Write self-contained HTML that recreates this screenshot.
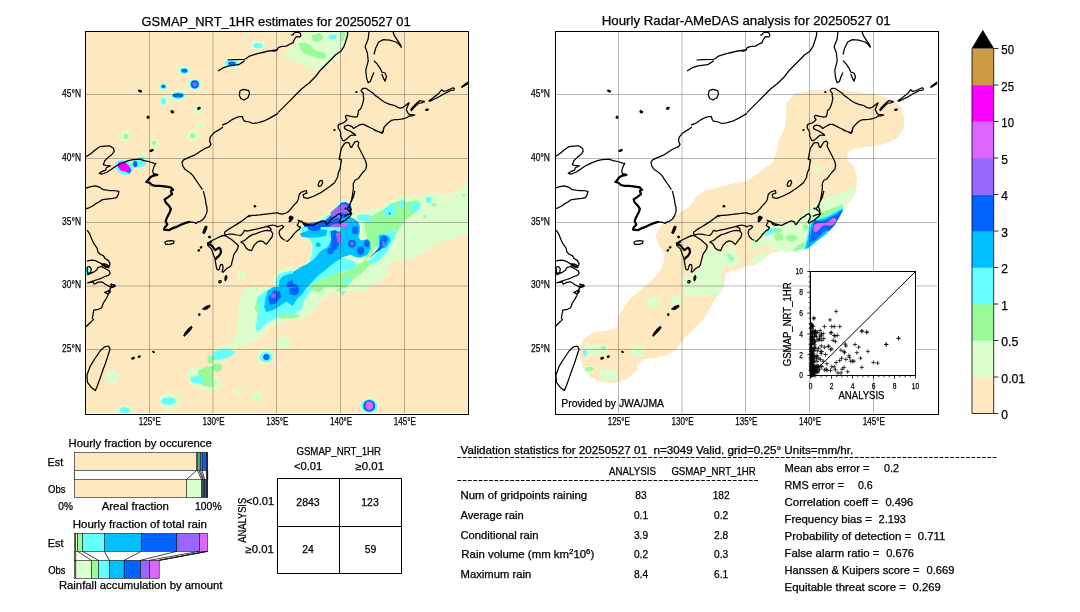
<!DOCTYPE html><html><head><meta charset="utf-8"><style>html,body{margin:0;padding:0;background:#fff;width:1080px;height:612px;overflow:hidden}svg{display:block;will-change:transform}text{font-family:"Liberation Sans",sans-serif;fill:#000;white-space:pre;stroke:#000;stroke-width:0.25px}</style></head><body>
<svg width="1080" height="612" viewBox="0 0 1080 612">
<defs>
<clipPath id="cpL"><rect x="85.75" y="30.75" width="382.5" height="382.5"/></clipPath>
<g id="coast">
<path d="M227.5,60.0 L233.8,59.7 L244.0,59.5 L246.3,58.5 L249.5,56.1 L255.7,54.2 L263.6,52.2 L269.8,50.9 L276.1,49.8 L278.0,49.4 M218.1,71.0 L222.8,67.9 L229.1,65.8 L238.5,64.7 L242.4,62.4 L244.7,60.5 M240.0,90.6 L244.0,89.4 L248.7,90.6 L249.5,93.7 L247.9,97.7 L244.0,100.0 L240.8,98.5 L239.3,95.3 L240.0,90.6 M222.0,125.1 L227.5,122.8 L232.2,119.6 L236.9,117.3 L240.0,116.5 L242.4,116.5 L243.2,119.6 L244.7,121.2 L249.5,122.0 L252.6,123.5 L257.3,122.8 L263.6,121.2 L269.8,118.1 L278.0,113.4 M262.0,52.8 L266.4,51.4 L270.9,50.6 L274.4,51.2 L277.1,50.1 L278.0,47.9 L280.7,46.6 L286.4,46.1 L289.6,44.3 L293.1,42.6 L294.0,40.3 L295.8,37.2 L297.6,36.6 L299.8,37.0 L300.9,35.4 L300.2,33.2 L298.4,32.1 L295.8,32.3 L294.0,33.2 L293.1,34.6 L291.3,35.4 M278.0,112.6 L282.7,107.9 L289.0,101.6 L295.3,95.3 L301.5,89.0 L309.4,82.8 L315.6,76.5 L320.4,70.2 L325.1,65.5 L331.3,59.2 L336.0,54.5 L340.7,51.4 L343.9,46.7 L345.5,42.0 L347.0,37.3 L347.8,33.4 L347.0,31.0 M369.0,31.0 L368.2,38.8 L365.1,46.7 L367.4,53.0 L368.2,60.8 L365.8,70.2 L366.6,78.1 L368.2,82.8 L370.5,81.2 L372.1,76.5 L374.0,72.6 M392.8,31.0 L394.4,35.7 L397.5,40.4 L400.7,45.1 L401.5,47.5 M374.0,54.5 L375.6,48.3 L378.7,42.0 L383.4,39.6 L389.7,40.1 L396.0,42.0 L399.1,44.3 L401.5,47.5 M374.0,60.8 L377.1,63.9 L380.3,68.6 L381.8,72.1 L385.0,73.0 L386.5,76.5 L385.0,81.2 L383.4,78.1 L381.8,74.1 M410.6,110.1 L412.2,107.7 L414.7,105.2 L417.1,102.8 L419.6,100.7 L422.1,101.1 L424.5,101.6 L422.1,102.8 L418.8,103.2 L415.5,106.1 L413.1,108.5 L411.4,110.5 L410.6,110.1 M428.6,101.1 L431.9,98.7 L435.1,96.2 L438.4,93.8 L441.7,89.7 L443.3,91.3 L446.6,90.9 L449.8,89.3 L453.1,87.7 L454.3,88.5 L453.9,90.1 L450.7,90.5 L447.4,92.2 L444.1,93.8 L440.0,96.2 L436.8,97.9 L433.5,99.5 L430.2,101.1 L428.6,101.1 M461.3,87.3 L463.7,85.2 L466.2,83.2 L468.6,81.9 L469.0,83.2 L466.2,84.8 L462.9,86.8 L461.3,87.3 M86.0,156.8 L90.7,153.7 L95.4,149.7 L100.1,146.6 L104.8,146.1 L109.5,145.8 L113.5,148.2 L114.2,151.3 L111.9,154.5 L108.0,157.6 L104.8,160.7 L103.3,164.6 L105.6,165.4 L110.3,165.9 L106.4,167.8 L105.6,170.1 L101.7,171.7 L99.3,173.3 L101.7,174.1 L106.4,172.5 L111.1,169.4 L115.8,166.2 L122.1,163.1 L128.4,160.7 L133.1,159.6 L140.1,159.2 L144.0,160.7 L148.7,161.5 L153.5,163.1 L155.8,163.4 L154.2,166.2 L152.7,170.9 L153.5,174.1 L157.4,174.8 L153.5,175.6 L150.3,177.2 L148.7,179.5 L146.4,181.9 L149.5,182.7 L151.9,185.0 L155.0,185.8 L159.7,185.8 L166.0,186.6 L170.7,187.4 L173.1,189.7 M86.0,188.2 L90.7,186.6 L95.4,185.8 L100.1,187.4 L103.3,189.7 L109.5,190.5 L114.2,190.5 L118.9,191.3 L118.2,194.5 L116.6,197.6 L112.7,198.4 L106.4,199.2 L101.7,199.9 L98.5,202.3 L95.4,203.9 L92.3,206.2 L89.1,207.8 L86.0,208.6 M222.8,127.0 L219.6,129.4 L213.4,133.3 L210.2,137.2 L209.5,141.1 L211.0,144.3 L209.5,146.6 L204.0,149.0 L199.3,152.1 L194.5,155.2 L188.3,157.6 L183.6,159.9 L182.0,162.3 L182.8,166.2 L185.1,169.4 L189.8,172.5 L193.0,175.6 L196.1,180.3 L199.3,185.0 L202.4,189.7 M278.0,213.3 L282.7,214.1 L287.4,212.5 L290.5,209.4 L293.7,205.4 L296.8,202.3 L298.4,199.2 L299.2,194.5 L301.5,192.1 L306.2,190.5 L307.0,192.9 L303.1,194.5 L303.9,197.6 L307.8,198.4 L314.1,196.0 L320.4,192.9 L325.1,189.7 L329.8,186.6 L334.5,182.7 L337.6,177.2 L338.4,172.5 L340.0,169.4 L340.7,164.6 L341.5,159.9 L339.2,159.2 L340.0,155.2 L340.7,151.3 L341.5,148.2 L343.9,144.3 L345.5,142.7 L348.6,142.7 L349.4,143.5 L350.2,146.6 L351.7,147.4 L353.3,144.3 L354.9,141.9 L357.2,141.1 L358.8,142.7 L358.0,145.8 L359.6,149.0 L361.1,152.1 L363.5,156.8 L365.8,161.5 L366.6,165.4 L365.8,169.4 L362.7,172.5 L360.4,175.6 L358.0,178.8 L354.9,180.3 L353.3,183.5 L353.3,189.7 L352.5,194.5 L351.7,199.2 L350.2,203.9 L349.4,207.0 L350.9,210.1 L350.2,214.1 L347.0,214.8 L343.9,216.4 M318.0,185.0 L319.6,181.1 L321.9,180.3 L322.7,182.7 L321.1,185.8 L318.5,186.3 L318.0,185.0 M374.0,130.1 L378.7,131.7 L381.8,133.3 L383.4,130.1 L384.2,127.0 M87.2,230.1 L89.5,233.6 L91.9,239.5 L94.2,244.2 L97.2,248.3 L97.8,251.8 L100.1,254.2 L103.6,255.9 L104.8,258.3 L108.4,260.6 L110.1,263.6 L109.5,265.9 L107.2,266.5 L103.6,264.8 L101.3,263.6 L97.8,261.8 L95.4,260.6 L91.9,260.1 L88.4,260.6 L87.2,261.2 M101.3,263.6 L106.0,264.2 L108.9,265.9 L108.9,267.7 L106.0,267.1 L102.5,265.4 L101.3,263.6 M87.2,274.8 L93.1,272.4 L96.6,270.1 L97.8,267.7 L101.3,266.5 L103.6,267.7 L107.2,269.5 L109.5,271.2 L110.1,273.6 L108.4,275.4 L104.8,276.5 L101.3,278.3 L97.8,279.5 L94.2,280.6 L90.7,281.8 L87.2,283.0 M87.2,267.1 L89.5,266.5 L91.3,268.9 L90.7,272.4 L87.8,273.6 L87.2,270.1 L87.2,267.1 M87.2,283.0 L90.7,282.4 L93.1,281.8 L94.2,284.2 L97.8,282.4 L101.3,281.8 L103.6,283.0 L106.0,284.8 L108.4,285.9 L110.7,287.1 L111.9,286.5 L110.7,284.2 L114.2,284.8 L115.4,285.9 L113.1,287.1 L110.7,287.7 L109.5,290.1 L107.2,291.2 L104.8,292.4 L107.2,293.6 L109.5,293.0 L110.7,290.6 M111.1,284.2 L115.0,285.7 L111.1,287.3 L109.5,290.5 L108.0,295.2 L106.4,298.3 L103.3,303.0 L101.7,307.7 L98.5,309.3 L93.8,310.1 L93.1,314.0 L92.3,319.0 M297.6,220.0 L301.5,221.6 L306.2,223.9 L309.4,224.7 L312.5,225.5 L315.6,223.9 L318.8,222.4 L321.9,220.8 L325.1,221.6 L326.6,224.7 L328.2,223.2 L329.8,220.8 L332.9,217.7 L336.0,216.1 L337.6,214.5 L340.0,213.7 L341.5,216.1 L340.7,219.2 L339.2,221.6 L340.0,223.2 L342.3,221.6 L345.5,220.0 L347.0,218.5 L349.4,216.9 L351.7,213.7 L350.2,211.4 L347.0,209.0 L348.6,206.7 L350.2,203.5 L351.7,200.4 L353.3,197.3 L354.1,194.1 L354.9,191.0 M289.0,217.7 L290.5,216.1 L292.1,218.5 L290.5,220.0 L289.0,217.7 M108.5,346.0 L104.5,346.9 L100.1,351.0 L95.0,358.5 L90.0,366.7 L86.9,375.2 L87.5,382.4 L91.3,387.4 L95.4,390.5 L97.5,385.5 L100.4,377.4 L103.2,369.2 L105.7,362.6 L108.2,354.8 L110.1,349.1 L108.5,346.0 M86.0,326.8 L89.1,323.7 L92.3,320.6 L93.8,319.0 M363.0,95.0 L363.5,93.7 L361.1,90.6 L362.7,88.3 L365.8,88.3 L370.5,91.4 L374.0,93.7 L374.4,95.0 M363.0,95.0 L363.8,98.3 L363.0,102.4 L362.1,105.6 L360.5,108.9 L358.5,110.5 L358.1,113.8 L357.2,116.7 L354.8,117.1 L352.3,116.7 L349.9,116.2 L346.6,115.4 L345.4,116.2 L345.8,118.3 L347.0,119.5 L345.8,121.1 L343.4,122.8 L340.9,123.6 L338.9,124.4 L338.0,126.1 L338.5,128.5 L339.7,130.1 L340.9,133.4 L340.5,135.9 L341.7,138.3 L342.5,140.4 L344.2,140.8 L346.6,139.1 L349.1,136.7 L350.7,135.4 L353.2,135.0 L355.6,135.4 L354.8,134.2 L352.3,132.6 L349.9,131.0 L347.4,130.1 L345.0,128.9 L344.2,127.7 L345.0,126.1 L347.4,125.2 L349.9,125.6 L352.3,126.9 L353.6,128.5 L355.6,127.3 L358.9,125.2 L361.3,124.4 L363.8,124.4 L367.1,126.1 L370.3,127.7 L373.6,129.3 L376.9,131.0 L380.1,132.2 L382.6,133.0 L383.4,131.0 L383.4,128.5 L385.0,126.1 L388.3,122.8 L391.6,120.3 L394.8,119.5 L398.1,119.5 L401.4,119.1 L404.6,118.3 L407.1,117.5 L408.7,116.2 L412.0,115.8 L414.9,115.0 L412.0,114.6 L409.5,114.6 L407.9,113.0 L407.1,111.3 L406.3,109.7 L407.1,107.3 L408.7,104.0 L409.1,102.8 L407.9,103.6 L405.5,105.6 L403.0,107.3 L400.6,108.1 L398.1,107.7 L395.7,106.0 L393.2,105.2 L389.9,104.4 L386.7,103.2 L383.4,101.5 L380.1,99.1 L376.9,96.6 L374.4,95.0 M170.9,191.0 L172.0,194.1 L167.8,197.3 L164.6,199.4 L165.7,202.5 L168.8,205.6 L170.9,208.8 L169.9,211.9 L168.3,215.1 L166.7,218.2 L165.7,221.3 L167.3,224.5 L164.6,227.6 L164.1,229.7 L168.8,230.2 L173.0,228.1 L177.2,226.6 L181.4,224.5 L185.6,222.9 L189.7,221.8 L193.9,222.4 L196.0,223.4 L198.1,221.8 L200.2,221.3 L203.3,219.2 L205.4,216.1 L207.0,211.9 L207.0,207.7 L205.9,203.5 L205.4,199.4 L204.4,195.2 L203.3,191.0 M164.6,242.2 L166.7,241.2 L170.9,240.7 L174.1,241.2 L173.5,243.3 L169.9,244.3 L165.7,244.3 L164.6,242.2 M207.4,243.4 L211.6,240.8 L215.8,238.7 L220.0,236.6 L224.1,235.5 L226.2,236.1 L228.3,237.6 L230.4,238.7 L232.5,240.3 L234.6,242.3 L236.7,243.9 L238.3,246.0 L237.7,248.6 L236.2,251.2 L234.6,253.3 L233.6,255.4 L233.0,258.6 L232.0,261.7 L231.5,264.8 L229.9,266.9 L227.3,268.0 L225.7,269.5 L224.1,271.1 L223.1,272.2 L222.1,271.6 L223.1,268.0 L222.6,264.8 L221.0,264.3 L220.0,265.9 L219.4,269.0 L218.4,270.1 L216.8,269.0 L216.3,266.9 L215.8,263.8 L215.3,260.6 L214.7,257.5 L213.7,255.4 L212.6,252.3 L211.6,249.1 L209.5,247.1 L207.9,245.5 L207.4,243.9 L207.4,243.4 M218.7,281.6 L219.4,280.5 L220.8,280.5 L221.2,281.8 L220.2,282.8 L218.9,282.6 L218.7,281.6 M225.7,235.0 L224.5,233.4 L224.9,231.9 L228.8,229.1 L232.8,226.8 L236.7,224.4 L240.6,221.9 L244.5,218.9 L247.7,216.6 L250.0,215.0 M221.0,235.8 L225.7,235.0 L228.8,234.2 L232.8,234.2 L236.7,235.0 L240.6,235.5 L242.6,233.8 L244.5,230.3 L246.9,231.1 L249.2,230.7 L252.4,229.9 L256.3,229.1 L260.2,228.2 L263.4,227.4 L266.5,226.6 L269.6,225.6 L272.8,225.0 L275.9,225.8 L277.5,226.8 L279.8,226.0 L282.2,225.4 L283.6,226.8 L282.2,228.5 L280.0,229.9 L279.2,231.6 L279.2,233.8 L280.6,237.0 L283.0,239.3 L285.0,240.3 M240.6,242.1 L244.5,240.5 L246.9,238.5 L249.2,236.6 L252.4,234.6 L255.5,233.8 L258.6,232.6 L261.8,231.5 L264.9,230.7 L268.1,230.3 L271.2,231.1 L272.8,233.8 L272.0,237.0 L269.6,240.1 L267.3,243.2 L266.1,244.4 L263.4,241.7 L260.2,240.9 L257.1,242.1 L253.9,245.6 L251.6,250.7 L248.5,249.9 L246.1,247.9 L244.5,244.8 L243.0,243.2 L240.6,242.1 M267.3,226.8 L269.6,227.5 L271.2,229.5 L270.4,230.7 M285.7,241.0 L287.8,241.0 L289.9,238.9 L292.0,236.8 L293.1,234.7 L295.2,232.6 L297.2,230.6 L299.3,229.5 L300.4,227.4 L298.3,226.4 L297.2,225.3 L298.3,223.2 L299.3,221.1 L301.4,221.1 L302.5,222.2 L303.5,224.3 L305.6,225.3 L307.7,225.3 L310.0,224.8 M246.0,217.5 L249.1,216.4 L252.3,215.4 L255.4,215.4 L259.6,214.9 L263.8,214.3 L268.0,213.8 L272.1,213.3 L276.3,212.8 L278.0,212.6 L278.0,213.3 M288.9,221.7 L289.9,219.1 L291.5,216.4 L293.1,217.5 L292.0,219.6 L289.9,221.7 L288.9,221.7" fill="none" stroke="#000" stroke-width="1.25" stroke-linejoin="round"/>
<path d="M153.5,174.1 L157.4,174.8 L153.5,175.6 L150.3,177.2 L148.7,179.5 L146.4,181.9 L149.5,182.7 L151.9,185.0 L155.0,185.8 L159.7,185.8 L166.0,186.6 L170.7,187.4 L173.1,189.7 L170.9,191.0 L172.0,194.1 L167.8,197.3 L164.6,199.4 L165.7,202.5 L168.8,205.6 L170.9,208.8 L169.9,211.9 L168.3,215.1 L166.7,218.2 L165.7,221.3 L167.3,224.5 L164.6,227.6 L164.1,229.7 L168.8,230.2 L173.0,228.1 L177.2,226.6 L181.4,224.5 L185.6,222.9 L189.7,221.8 M208.5,243.9 L211.6,245.5 L213.7,248.1 L215.3,250.2 L216.8,249.1 L218.9,247.6 L220.5,249.1 L221.0,252.3 L220.0,254.4 L218.4,256.5 L216.8,257.5 L215.8,259.6 M207.4,243.4 L209.5,242.9 L211.6,241.3" fill="none" stroke="#000" stroke-width="2.2" stroke-linejoin="round"/>
<path d="M202.4,309.0 L205.5,306.6 L209.5,305.0 L210.2,306.6 L207.1,309.0 L204.7,309.7Z" fill="#000" stroke="#000" stroke-width="0.8"/>
<path d="M183.6,335.6 L185.1,332.5 L188.3,328.6 L191.4,326.2 L192.2,327.8 L189.8,330.9 L186.7,334.1 L184.4,336.4Z" fill="#000" stroke="#000" stroke-width="0.8"/>
<path d="M203.3,232.8 L204.4,229.7 L205.9,226.6 L207.3,227.1 L205.6,230.9 L204.2,233.7Z" fill="#000" stroke="#000" stroke-width="0.8"/>
<path d="M202.7,232.9 L203.8,229.3 L205.3,226.1 L206.9,226.3 L205.8,230.3 L204.3,233.5Z" fill="#000" stroke="#000" stroke-width="0.8"/>
<path d="M225.4,275.8 L226.4,275.3 L227.1,277.4 L226.2,280.3 L225.0,281.1 L224.7,278.4Z" fill="#000" stroke="#000" stroke-width="0.8"/>
<ellipse cx="140.1" cy="91.1" rx="2.2" ry="1.3" transform="rotate(20 140.1 91.1)" fill="#000"/>
<ellipse cx="172.3" cy="111.8" rx="2.0" ry="1.6" transform="rotate(30 172.3 111.8)" fill="#000"/>
<ellipse cx="148.0" cy="117.3" rx="1.4" ry="1.8" transform="rotate(0 148.0 117.3)" fill="#000"/>
<ellipse cx="198.9" cy="108.3" rx="2.0" ry="1.4" transform="rotate(-30 198.9 108.3)" fill="#000"/>
<ellipse cx="356.4" cy="91.9" rx="1.2" ry="1.0" transform="rotate(0 356.4 91.9)" fill="#000"/>
<ellipse cx="427.0" cy="109.7" rx="2.0" ry="1.2" transform="rotate(-10 427.0 109.7)" fill="#000"/>
<ellipse cx="151.6" cy="150.5" rx="2.4" ry="1.3" transform="rotate(-20 151.6 150.5)" fill="#000"/>
<ellipse cx="254.9" cy="206.2" rx="1.4" ry="1.2" transform="rotate(0 254.9 206.2)" fill="#000"/>
<ellipse cx="334.5" cy="130.1" rx="1.2" ry="1.0" transform="rotate(0 334.5 130.1)" fill="#000"/>
<ellipse cx="345.5" cy="208.6" rx="1.2" ry="1.0" transform="rotate(0 345.5 208.6)" fill="#000"/>
<ellipse cx="133.1" cy="358.2" rx="2.0" ry="1.3" transform="rotate(-20 133.1 358.2)" fill="#000"/>
<ellipse cx="139.3" cy="356.6" rx="1.6" ry="1.2" transform="rotate(-30 139.3 356.6)" fill="#000"/>
<ellipse cx="153.5" cy="351.9" rx="1.5" ry="1.0" transform="rotate(30 153.5 351.9)" fill="#000"/>
<ellipse cx="199.3" cy="314.5" rx="1.2" ry="1.5" transform="rotate(0 199.3 314.5)" fill="#000"/>
<ellipse cx="209.6" cy="237.0" rx="1.3" ry="1.2" transform="rotate(0 209.6 237.0)" fill="#000"/>
<ellipse cx="209.5" cy="237.1" rx="1.3" ry="1.3" transform="rotate(0 209.5 237.1)" fill="#000"/>
<ellipse cx="201.1" cy="247.3" rx="1.5" ry="1.2" transform="rotate(-40 201.1 247.3)" fill="#000"/>
<ellipse cx="198.8" cy="250.4" rx="1.5" ry="1.2" transform="rotate(-40 198.8 250.4)" fill="#000"/>
</g>
<path id="grid" d="M149.50,30.75V413.25 M213.00,30.75V413.25 M276.50,30.75V413.25 M340.50,30.75V413.25 M404.50,30.75V413.25 M85.75,349.50H468.25 M85.75,286.00H468.25 M85.75,222.50H468.25 M85.75,158.50H468.25 M85.75,94.50H468.25" fill="none" stroke="#000" stroke-opacity="0.27" stroke-width="1"/>
</defs>
<g clip-path="url(#cpL)">
<rect x="85.75" y="30.75" width="382.5" height="382.5" fill="#fee8c0"/>
<clipPath id="lg0"><rect x="85" y="31" width="128" height="128"/></clipPath>
<g clip-path="url(#lg0)">
<path d="M178.1,70.7 a6.3,4.6 0 1,0 12.5,0 a6.3,4.6 0 1,0 -12.5,0Z" fill="#dcfdcc"/>
<path d="M187.7,84.3 a7.1,6.3 0 1,0 14.2,0 a7.1,6.3 0 1,0 -14.2,0Z" fill="#dcfdcc"/>
<path d="M158.8,86.4 a4.6,3.8 0 1,0 9.2,0 a4.6,3.8 0 1,0 -9.2,0Z" fill="#dcfdcc"/>
<path d="M169.7,95.4 a8.4,5.2 0 1,0 16.7,0 a8.4,5.2 0 1,0 -16.7,0Z" fill="#dcfdcc"/>
<path d="M159.2,101.1 a4.2,5.2 0 1,0 8.4,0 a4.2,5.2 0 1,0 -8.4,0Z" fill="#dcfdcc"/>
<path d="M194.2,110.5 a3.8,4.2 0 1,0 7.5,0 a3.8,4.2 0 1,0 -7.5,0Z" fill="#dcfdcc"/>
<path d="M195.4,124.7 a4.6,3.8 0 1,0 9.2,0 a4.6,3.8 0 1,0 -9.2,0Z" fill="#dcfdcc"/>
<path d="M186.9,135.6 a5.9,5.2 0 1,0 11.7,0 a5.9,5.2 0 1,0 -11.7,0Z" fill="#dcfdcc"/>
<path d="M120.6,136.6 a5.2,5.2 0 1,0 10.5,0 a5.2,5.2 0 1,0 -10.5,0Z" fill="#dcfdcc"/>
<path d="M149.4,142.9 a4.6,4.6 0 1,0 9.2,0 a4.6,4.6 0 1,0 -9.2,0Z" fill="#dcfdcc"/>
<path d="M137.3,158.2 a4.6,2.9 0 1,0 9.2,0 a4.6,2.9 0 1,0 -9.2,0Z" fill="#dcfdcc"/>
<path d="M190.2,135.6 a2.5,2.5 0 1,0 5.0,0 a2.5,2.5 0 1,0 -5.0,0Z" fill="#98fa98"/>
<path d="M123.3,136.6 a2.5,2.5 0 1,0 5.0,0 a2.5,2.5 0 1,0 -5.0,0Z" fill="#98fa98"/>
<path d="M151.9,142.9 a2.1,2.1 0 1,0 4.2,0 a2.1,2.1 0 1,0 -4.2,0Z" fill="#98fa98"/>
<path d="M179.7,70.7 a4.6,3.1 0 1,0 9.2,0 a4.6,3.1 0 1,0 -9.2,0Z" fill="#66fdfd"/>
<path d="M189.4,84.3 a5.4,4.8 0 1,0 10.9,0 a5.4,4.8 0 1,0 -10.9,0Z" fill="#66fdfd"/>
<path d="M160.1,86.4 a3.3,2.7 0 1,0 6.7,0 a3.3,2.7 0 1,0 -6.7,0Z" fill="#66fdfd"/>
<path d="M171.2,95.4 a6.9,3.6 0 1,0 13.8,0 a6.9,3.6 0 1,0 -13.8,0Z" fill="#66fdfd"/>
<path d="M160.9,101.1 a2.5,3.6 0 1,0 5.0,0 a2.5,3.6 0 1,0 -5.0,0Z" fill="#66fdfd"/>
<path d="M139.0,158.2 a2.9,1.7 0 1,0 5.9,0 a2.9,1.7 0 1,0 -5.9,0Z" fill="#66fdfd"/>
<path d="M181.4,70.7 a2.9,1.9 0 1,0 5.9,0 a2.9,1.9 0 1,0 -5.9,0Z" fill="#0064fd"/>
<path d="M190.8,84.3 a4.0,3.6 0 1,0 7.9,0 a4.0,3.6 0 1,0 -7.9,0Z" fill="#0064fd"/>
<path d="M161.3,86.4 a2.1,1.7 0 1,0 4.2,0 a2.1,1.7 0 1,0 -4.2,0Z" fill="#0064fd"/>
<path d="M172.8,95.4 a5.2,2.1 0 1,0 10.5,0 a5.2,2.1 0 1,0 -10.5,0Z" fill="#0064fd"/>
<path d="M192.7,84.3 a2.1,2.1 0 1,0 4.2,0 a2.1,2.1 0 1,0 -4.2,0Z" fill="#9966fd"/>
</g>
<clipPath id="lg1"><rect x="213" y="31" width="128" height="128"/></clipPath>
<g clip-path="url(#lg1)">
<path d="M222.4,63.4 a9.4,5.9 0 1,0 18.8,0 a9.4,5.9 0 1,0 -18.8,0Z" fill="#dcfdcc"/>
<path d="M250.6,45.6 a7.3,5.2 0 1,0 14.6,0 a7.3,5.2 0 1,0 -14.6,0Z" fill="#dcfdcc"/>
<path d="M284.1,56.1 L288.3,49.8 L296.7,41.5 L298.8,35.2 L305.0,32.0 L321.8,32.0 L330.1,31.0 L341.0,31.0 L341.0,54.0 L334.3,58.2 L325.9,64.5 L317.6,69.7 L311.3,68.6 L300.8,64.5 L292.5,60.3 L284.1,58.2Z" fill="#dcfdcc"/>
<path d="M206.3,33.1 a4.6,3.8 0 1,0 9.2,0 a4.6,3.8 0 1,0 -9.2,0Z" fill="#dcfdcc"/>
<path d="M298.8,43.5 L305.0,42.5 L311.3,45.6 L313.4,49.8 L321.8,51.9 L325.9,54.0 L325.9,58.2 L317.6,58.2 L311.3,56.1 L305.0,54.0 L300.8,49.8Z" fill="#98fa98"/>
<path d="M311.3,35.2 L319.7,33.1 L323.8,37.3 L319.7,41.5 L313.4,41.5Z" fill="#98fa98"/>
<path d="M208.8,33.1 a2.1,1.7 0 1,0 4.2,0 a2.1,1.7 0 1,0 -4.2,0Z" fill="#98fa98"/>
<path d="M225.1,63.4 a6.7,2.9 0 1,0 13.4,0 a6.7,2.9 0 1,0 -13.4,0Z" fill="#66fdfd"/>
<path d="M253.4,45.6 a4.6,2.7 0 1,0 9.2,0 a4.6,2.7 0 1,0 -9.2,0Z" fill="#66fdfd"/>
<path d="M328.5,36.9 a4.2,2.5 0 1,0 8.4,0 a4.2,2.5 0 1,0 -8.4,0Z" fill="#66fdfd"/>
<path d="M228.1,63.4 a3.8,1.7 0 1,0 7.5,0 a3.8,1.7 0 1,0 -7.5,0Z" fill="#0064fd"/>
</g>
<clipPath id="lg2"><rect x="341" y="31" width="128" height="128"/></clipPath>
<g clip-path="url(#lg2)">
<path d="M341.0,31.0 L347.3,31.0 L346.2,39.4 L343.1,45.6 L341.0,46.7Z" fill="#dcfdcc"/>
<path d="M341.0,31.0 L345.2,31.0 L344.1,39.4 L341.0,42.5Z" fill="#98fa98"/>
</g>
<clipPath id="lg3"><rect x="85" y="159" width="128" height="128"/></clipPath>
<g clip-path="url(#lg3)">
<path d="M115.3,162.1 L119.5,160.0 L127.9,160.7 L132.1,165.3 L132.7,170.5 L130.0,174.7 L123.7,174.7 L118.0,172.0 L115.3,167.4Z" fill="#66fdfd"/>
<path d="M131.6,162.8 a7.3,4.6 0 1,0 14.6,0 a7.3,4.6 0 1,0 -14.6,0Z" fill="#66fdfd"/>
<path d="M82.9,270.9 a3.1,4.2 0 1,0 6.3,0 a3.1,4.2 0 1,0 -6.3,0Z" fill="#66fdfd"/>
<path d="M126.8,167.4 L130.0,167.4 L131.4,170.5 L129.3,173.2 L126.8,172.6Z" fill="#0064fd"/>
<path d="M133.1,164.2 a2.1,3.1 0 1,0 4.2,0 a2.1,3.1 0 1,0 -4.2,0Z" fill="#0064fd"/>
<path d="M118.0,162.8 L122.6,161.5 L126.8,163.6 L130.0,166.9 L129.3,170.7 L125.8,172.0 L120.6,170.5 L118.0,166.9Z" fill="#fd00fd"/>
</g>
<clipPath id="lg4"><rect x="213" y="159" width="80" height="132"/></clipPath>
<g clip-path="url(#lg4)">
<path d="M272.3,291.0 L273.9,279.7 L275.4,273.4 L280.1,270.3 L284.8,268.7 L293.0,266.4 L293.0,291.0Z" fill="#dcfdcc"/>
<path d="M237.0,275.8 a4.7,4.7 0 1,0 9.4,0 a4.7,4.7 0 1,0 -9.4,0Z" fill="#dcfdcc"/>
<path d="M275.4,291.0 L276.2,279.7 L278.6,274.2 L284.8,271.9 L293.0,270.3 L293.0,291.0Z" fill="#66fdfd"/>
<path d="M278.6,291.0 L279.4,280.5 L282.5,276.6 L288.0,274.2 L293.0,273.4 L293.0,291.0Z" fill="#00c0fd"/>
<path d="M286.4,291.0 L287.2,282.8 L291.1,280.5 L293.0,279.7 L293.0,291.0Z" fill="#0064fd"/>
</g>
<clipPath id="lg5"><rect x="293" y="159" width="96" height="36"/></clipPath>
<g clip-path="url(#lg5)">
</g>
<clipPath id="lg6"><rect x="293" y="195" width="48" height="32"/></clipPath>
<g clip-path="url(#lg6)">
<path d="M293.0,268.7 L297.9,266.7 L306.3,261.5 L309.5,254.1 L310.6,247.9 L308.4,241.6 L304.1,238.5 L299.0,233.3 L297.9,230.1 L300.8,225.6 L308.7,224.8 L315.0,221.7 L321.2,217.0 L327.5,212.3 L333.8,206.0 L338.5,202.8 L344.8,201.3 L351.0,202.8 L352.6,207.5 L355.7,210.7 L362.0,212.3 L368.3,210.7 L374.6,209.1 L380.8,207.5 L389.0,206.0 L389.0,270.3 L382.4,275.0 L376.1,279.7 L369.9,284.4 L365.2,291.0 L293.0,291.0Z" fill="#dcfdcc"/>
<path d="M362.0,221.7 L368.3,218.5 L377.7,217.0 L384.0,220.1 L384.0,231.1 L377.7,235.8 L371.4,237.4 L365.2,234.2 L362.0,227.9Z" fill="#98fa98"/>
<path d="M340.1,260.9 L347.9,254.6 L355.7,251.5 L363.6,253.0 L374.6,251.5 L380.8,254.6 L374.6,260.9 L366.7,267.2 L358.9,271.9 L349.5,275.0 L340.1,278.1 L333.8,276.6Z" fill="#98fa98"/>
<path d="M385.5,207.5 L389.0,206.8 L389.0,217.0 L385.5,215.4Z" fill="#98fa98"/>
<path d="M302.4,235.8 L308.7,231.1 L315.0,226.4 L319.7,221.7 L324.4,218.5 L329.1,214.6 L333.8,210.7 L336.9,206.0 L340.1,202.8 L346.3,202.1 L351.0,204.4 L353.4,209.1 L355.7,212.3 L358.9,214.6 L363.6,215.4 L368.3,213.8 L374.6,212.3 L380.8,209.9 L389.0,208.3 L389.0,217.0 L384.0,218.5 L380.8,217.0 L374.6,217.0 L368.3,218.5 L362.0,221.7 L360.5,226.4 L362.0,232.6 L366.7,235.8 L374.6,237.4 L380.8,234.2 L389.0,232.6 L389.0,268.7 L380.8,264.0 L371.4,264.0 L366.7,260.9 L360.5,257.7 L352.6,256.2 L344.8,257.7 L340.1,260.9 L335.4,265.6 L330.6,270.3 L325.9,275.0 L319.7,279.7 L313.4,284.4 L308.7,291.0 L293.0,291.0 L293.0,270.3 L298.5,267.5 L307.1,262.5 L311.0,254.6 L311.8,247.9 L309.6,241.0 L305.5,237.4 L302.4,235.0Z" fill="#66fdfd"/>
<path d="M345.5,281.3 a3.9,3.1 0 1,0 7.8,0 a3.9,3.1 0 1,0 -7.8,0Z" fill="#66fdfd"/>
<path d="M305.5,234.2 L311.8,231.1 L318.1,227.9 L322.8,224.0 L327.5,220.1 L332.2,215.4 L335.4,210.7 L338.5,207.5 L343.2,206.0 L347.9,207.5 L349.5,212.3 L352.6,215.4 L355.7,217.0 L358.9,220.1 L360.5,226.4 L360.5,234.2 L363.6,238.9 L368.3,242.1 L371.4,245.2 L374.6,242.1 L379.3,235.8 L385.5,234.2 L389.0,234.2 L389.0,249.9 L384.0,254.6 L377.7,257.7 L371.4,259.3 L366.7,257.7 L360.5,254.6 L355.7,251.5 L349.5,253.0 L344.8,254.6 L340.1,256.2 L335.4,259.3 L332.2,260.9 L329.1,264.0 L324.4,268.7 L319.7,271.9 L315.0,275.0 L308.7,279.7 L302.4,286.0 L299.3,291.0 L293.0,291.0 L293.0,268.7 L297.7,265.6 L302.4,262.5 L305.5,257.7 L308.7,253.0 L313.4,246.8 L318.1,242.1 L315.0,240.5 L310.3,238.9 L305.5,237.4Z" fill="#00c0fd"/>
<path d="M304.0,224.0 L308.7,223.2 L315.0,222.5 L321.2,220.9 L325.9,220.1 L330.6,215.4 L333.8,212.3 L336.9,207.5 L340.1,204.4 L346.3,204.4 L350.3,207.5 L351.0,212.3 L349.5,217.0 L347.9,221.7 L351.0,223.2 L352.6,226.4 L351.0,231.1 L346.3,234.2 L343.2,238.9 L340.1,243.6 L338.5,248.3 L335.4,251.5 L330.6,253.0 L328.3,249.9 L330.6,245.2 L332.2,240.5 L330.6,235.8 L325.9,232.6 L324.4,235.8 L322.8,234.2 L321.2,231.1 L318.1,228.7 L313.4,227.9 L308.7,228.7 L304.0,227.9Z" fill="#0064fd"/>
<path d="M351.8,230.3 a3.1,3.9 0 1,0 6.3,0 a3.1,3.9 0 1,0 -6.3,0Z" fill="#0064fd"/>
<path d="M348.2,243.6 a4.4,4.4 0 1,0 8.8,0 a4.4,4.4 0 1,0 -8.8,0Z" fill="#0064fd"/>
<path d="M356.5,250.7 a3.9,3.9 0 1,0 7.8,0 a3.9,3.9 0 1,0 -7.8,0Z" fill="#0064fd"/>
<path d="M363.9,243.6 a2.8,3.1 0 1,0 5.6,0 a2.8,3.1 0 1,0 -5.6,0Z" fill="#0064fd"/>
<path d="M369.9,259.3 L374.6,254.6 L379.3,249.9 L380.8,243.6 L385.5,237.4 L387.1,242.1 L385.5,249.9 L380.8,256.2 L374.6,260.1Z" fill="#0064fd"/>
<path d="M328.3,250.7 a2.4,2.4 0 1,0 4.7,0 a2.4,2.4 0 1,0 -4.7,0Z" fill="#0064fd"/>
<path d="M337.2,261.7 a1.3,1.3 0 1,0 2.5,0 a1.3,1.3 0 1,0 -2.5,0Z" fill="#0064fd"/>
<path d="M293.0,268.7 L297.7,266.4 L302.4,265.6 L304.0,270.3 L300.8,276.6 L296.1,282.8 L293.0,284.4Z" fill="#0064fd"/>
<path d="M330.6,212.3 L335.4,208.3 L340.1,206.0 L344.8,206.8 L347.1,210.7 L346.3,213.8 L343.2,217.0 L340.1,218.5 L336.9,217.7 L333.8,218.5 L331.4,216.2Z" fill="#9966fd"/>
<path d="M329.1,226.4 L333.8,224.0 L340.1,223.2 L344.8,222.5 L347.9,224.0 L348.7,227.2 L344.8,228.7 L341.6,231.1 L340.1,235.8 L338.5,242.1 L335.4,246.8 L332.2,245.2 L333.8,240.5 L334.6,234.2 L332.2,229.5 L329.9,228.7Z" fill="#9966fd"/>
<path d="M350.3,243.6 a1.6,1.6 0 1,0 3.1,0 a1.6,1.6 0 1,0 -3.1,0Z" fill="#9966fd"/>
<path d="M381.6,243.6 a1.6,2.8 0 1,0 3.1,0 a1.6,2.8 0 1,0 -3.1,0Z" fill="#9966fd"/>
<path d="M341.9,225.1 a2.8,2.2 0 1,0 5.6,0 a2.8,2.2 0 1,0 -5.6,0Z" fill="#dd66fd"/>
</g>
<clipPath id="lg7"><rect x="293" y="227" width="48" height="64"/></clipPath>
<g clip-path="url(#lg7)">
<path d="M277.0,276.7 L282.2,275.6 L287.5,273.5 L292.7,271.4 L297.9,268.3 L302.1,266.2 L306.3,263.1 L308.9,259.4 L310.3,254.7 L311.3,250.0 L311.3,245.3 L309.2,240.6 L305.0,237.5 L302.1,235.4 L300.0,232.2 L299.2,227.0 L341.0,227.0 L341.0,291.0 L277.0,291.0Z" fill="#dcfdcc"/>
<path d="M305.2,291.0 L308.4,287.7 L313.6,283.5 L320.9,279.3 L329.3,276.2 L335.6,273.0 L341.0,270.9 L341.0,291.0Z" fill="#98fa98"/>
<path d="M277.0,278.2 L282.2,277.0 L287.5,274.9 L292.7,273.0 L297.9,269.7 L302.6,267.6 L307.3,264.1 L310.3,260.3 L311.5,255.2 L312.6,250.0 L312.6,244.8 L310.5,240.1 L307.3,237.5 L304.2,235.4 L302.1,232.2 L301.3,227.0 L341.0,227.0 L341.0,270.9 L335.6,273.0 L329.3,276.2 L320.9,279.3 L313.6,283.5 L308.4,287.7 L305.2,291.0 L277.0,291.0Z" fill="#66fdfd"/>
<path d="M277.0,276.2 L281.2,274.6 L287.5,273.5 L293.7,271.4 L299.0,268.3 L302.1,266.2 L306.3,264.6 L311.5,261.5 L315.7,257.3 L318.8,253.1 L323.0,249.5 L327.2,247.4 L329.3,243.7 L331.4,239.5 L333.5,235.4 L335.6,232.8 L341.0,230.7 L341.0,258.4 L334.5,262.6 L329.3,266.7 L324.1,270.9 L318.8,275.1 L314.6,279.3 L310.5,283.5 L306.3,287.7 L302.1,291.0 L277.0,291.0Z" fill="#00c0fd"/>
<path d="M300.0,233.3 L306.3,231.2 L311.5,230.1 L320.9,229.1 L327.2,230.1 L326.2,235.4 L320.9,236.9 L313.6,237.5 L306.3,237.5 L301.1,236.4Z" fill="#00c0fd"/>
<path d="M315.7,244.8 a2.6,2.3 0 1,0 5.2,0 a2.6,2.3 0 1,0 -5.2,0Z" fill="#00c0fd"/>
<path d="M330.3,231.2 L335.6,230.1 L339.7,233.3 L339.7,242.7 L337.7,247.9 L333.5,251.1 L330.3,247.9 L331.4,239.5Z" fill="#0064fd"/>
<path d="M327.2,251.1 a3.1,3.1 0 1,0 6.3,0 a3.1,3.1 0 1,0 -6.3,0Z" fill="#0064fd"/>
<path d="M307.3,227.0 L320.9,227.0 L319.9,230.1 L313.6,231.2 L308.4,230.1Z" fill="#0064fd"/>
<path d="M289.5,285.6 L293.7,283.5 L297.9,285.6 L297.9,291.0 L289.5,291.0Z" fill="#0064fd"/>
<path d="M335.6,233.3 L341.0,231.2 L341.0,243.7 L337.7,242.7Z" fill="#9966fd"/>
</g>
<clipPath id="lg8"><rect x="341" y="195" width="48" height="96"/></clipPath>
<g clip-path="url(#lg8)">
<path d="M341.0,199.7 L347.3,201.3 L352.0,204.4 L353.5,213.8 L359.8,212.3 L366.1,210.7 L372.4,209.1 L378.6,207.5 L383.4,204.4 L388.1,202.8 L394.3,201.3 L400.6,199.7 L410.0,196.6 L416.3,195.0 L437.0,195.0 L437.0,249.9 L427.3,254.6 L419.4,257.7 L411.6,260.9 L403.7,265.6 L395.9,270.3 L388.1,275.0 L380.2,280.5 L372.4,286.0 L364.5,291.0 L341.0,291.0Z" fill="#dcfdcc"/>
<path d="M364.5,221.7 L369.2,218.5 L375.5,213.8 L381.8,210.7 L388.1,209.1 L394.3,207.5 L400.6,204.4 L403.7,207.5 L403.7,215.4 L400.6,220.1 L397.5,226.4 L394.3,232.6 L392.8,238.9 L388.1,242.1 L381.8,242.1 L375.5,246.8 L372.4,253.0 L367.7,257.7 L364.5,260.9 L359.8,264.0 L353.5,267.2 L347.3,270.3 L341.0,273.4 L341.0,289.1 L345.7,287.5 L350.4,282.8 L356.7,276.6 L361.4,273.4 L366.1,268.7 L370.8,264.0 L367.7,260.9 L364.5,254.6 L366.1,246.8 L367.7,240.5 L366.1,234.2 L364.5,227.9Z" fill="#98fa98"/>
<path d="M356.7,215.4 L363.0,214.6 L369.2,215.1 L372.4,218.5 L369.2,220.9 L363.0,220.9 L358.3,220.1Z" fill="#66fdfd"/>
<path d="M383.4,209.1 L388.1,206.0 L392.8,206.0 L395.1,210.7 L392.8,215.4 L388.1,217.0 L384.1,214.6Z" fill="#66fdfd"/>
<path d="M378.6,234.2 L384.9,232.6 L391.2,234.2 L392.8,240.5 L389.6,248.3 L384.9,254.6 L378.6,260.9 L372.4,264.0 L367.7,262.5 L372.4,257.7 L377.1,253.0 L377.9,245.2 L377.1,238.9Z" fill="#66fdfd"/>
<path d="M341.0,257.7 L347.3,259.3 L353.5,260.9 L356.7,264.0 L353.5,268.7 L347.3,270.3 L341.0,271.9Z" fill="#66fdfd"/>
<path d="M344.1,280.5 a3.1,2.8 0 1,0 6.3,0 a3.1,2.8 0 1,0 -6.3,0Z" fill="#66fdfd"/>
<path d="M399.8,202.1 a2.4,3.1 0 1,0 4.7,0 a2.4,3.1 0 1,0 -4.7,0Z" fill="#66fdfd"/>
<path d="M341.0,217.0 L347.3,215.4 L353.5,218.5 L358.3,221.7 L359.8,226.4 L359.8,232.6 L358.3,237.4 L361.4,240.5 L367.7,238.9 L370.0,242.1 L370.8,248.3 L367.7,254.6 L364.5,256.2 L359.8,257.7 L355.1,257.0 L350.4,254.6 L345.7,256.2 L341.0,257.7Z" fill="#00c0fd"/>
<path d="M378.6,235.8 L383.4,234.2 L388.1,235.8 L389.6,240.5 L388.1,245.2 L384.9,248.3 L381.8,248.3 L379.4,245.2Z" fill="#00c0fd"/>
<path d="M341.0,202.8 L345.7,202.1 L350.4,204.4 L352.0,209.1 L350.4,213.8 L347.3,217.0 L341.0,218.5Z" fill="#0064fd"/>
<path d="M352.0,230.3 a3.1,3.9 0 1,0 6.3,0 a3.1,3.9 0 1,0 -6.3,0Z" fill="#0064fd"/>
<path d="M348.1,243.6 a3.9,3.9 0 1,0 7.8,0 a3.9,3.9 0 1,0 -7.8,0Z" fill="#0064fd"/>
<path d="M357.2,250.7 a3.5,3.9 0 1,0 6.9,0 a3.5,3.9 0 1,0 -6.9,0Z" fill="#0064fd"/>
<path d="M364.1,243.6 a2.8,3.5 0 1,0 5.6,0 a2.8,3.5 0 1,0 -5.6,0Z" fill="#0064fd"/>
<path d="M388.7,213.8 a0.9,0.9 0 1,0 1.9,0 a0.9,0.9 0 1,0 -1.9,0Z" fill="#0064fd"/>
<path d="M370.0,257.7 L375.5,253.0 L380.2,249.9 L383.4,246.8 L386.5,242.1 L388.1,238.1 L384.9,235.8 L381.8,236.6 L380.2,240.5 L379.4,246.8 L375.5,251.5 L370.8,256.2 L369.2,258.5Z" fill="#0064fd"/>
<path d="M341.0,204.4 L345.7,204.4 L348.8,207.5 L348.8,212.3 L345.7,213.8 L341.0,212.3Z" fill="#9966fd"/>
<path d="M350.4,243.6 a1.6,1.6 0 1,0 3.1,0 a1.6,1.6 0 1,0 -3.1,0Z" fill="#9966fd"/>
<path d="M382.1,243.6 a1.3,2.2 0 1,0 2.5,0 a1.3,2.2 0 1,0 -2.5,0Z" fill="#9966fd"/>
<path d="M341.8,224.8 a3.1,2.4 0 1,0 6.3,0 a3.1,2.4 0 1,0 -6.3,0Z" fill="#dd66fd"/>
</g>
<clipPath id="lg9"><rect x="389" y="159" width="80" height="100"/></clipPath>
<g clip-path="url(#lg9)">
<path d="M373.0,206.9 L379.3,203.8 L385.5,202.2 L391.8,200.6 L398.1,198.3 L404.4,195.9 L410.6,195.2 L416.9,195.9 L423.2,194.4 L429.5,193.6 L435.7,192.8 L442.0,194.4 L448.3,193.6 L454.6,192.0 L460.8,189.7 L464.0,186.5 L465.5,180.3 L469.0,177.1 L469.0,234.4 L467.1,235.2 L460.8,236.7 L454.6,238.3 L448.3,239.9 L442.0,241.4 L435.7,244.6 L429.5,249.3 L423.2,252.4 L416.9,255.5 L410.6,259.0 L373.0,259.0Z" fill="#dcfdcc"/>
<path d="M373.0,208.5 L379.3,207.7 L385.5,205.4 L390.3,203.8 L395.0,202.2 L399.7,200.6 L404.4,199.9 L405.9,202.2 L409.1,201.4 L413.8,200.6 L418.5,200.6 L420.8,203.8 L420.1,208.5 L416.9,211.6 L412.2,214.8 L407.5,217.9 L404.4,221.8 L401.2,225.7 L398.1,230.5 L395.0,235.2 L393.4,239.9 L390.3,244.6 L385.5,250.8 L380.8,255.5 L376.1,259.0 L373.0,259.0Z" fill="#98fa98"/>
<path d="M431.8,204.6 a2.4,1.3 0 1,0 4.7,0 a2.4,1.3 0 1,0 -4.7,0Z" fill="#98fa98"/>
<path d="M423.2,216.3 a1.6,1.3 0 1,0 3.1,0 a1.6,1.3 0 1,0 -3.1,0Z" fill="#98fa98"/>
<path d="M462.7,195.2 a1.3,0.9 0 1,0 2.5,0 a1.3,0.9 0 1,0 -2.5,0Z" fill="#98fa98"/>
<path d="M382.4,210.1 L385.5,206.9 L390.3,204.6 L393.4,203.0 L395.7,208.5 L395.0,213.2 L391.8,216.3 L387.1,217.9 L383.2,215.5Z" fill="#66fdfd"/>
<path d="M398.1,203.8 L401.2,200.6 L404.4,200.6 L405.2,204.6 L402.8,206.9 L399.7,206.9Z" fill="#66fdfd"/>
<path d="M409.9,206.9 L412.2,203.0 L416.9,202.2 L420.1,204.6 L419.3,209.3 L415.4,211.6 L411.4,211.6Z" fill="#66fdfd"/>
<path d="M425.9,199.9 a2.8,3.1 0 1,0 5.6,0 a2.8,3.1 0 1,0 -5.6,0Z" fill="#66fdfd"/>
<path d="M373.0,236.7 L379.3,233.6 L382.4,230.5 L387.1,228.1 L391.8,228.6 L395.0,232.0 L394.2,238.3 L391.0,243.0 L387.1,246.9 L382.4,251.6 L377.7,256.3 L375.4,259.0 L373.0,259.0Z" fill="#66fdfd"/>
<path d="M373.0,238.3 L378.5,235.9 L388.7,234.8 L390.6,239.9 L387.9,246.1 L382.4,252.4 L376.9,259.0 L373.0,259.0Z" fill="#00c0fd"/>
<path d="M373.0,247.7 L380.1,238.3 L385.5,236.4 L388.7,238.3 L388.7,243.0 L386.3,246.1 L384.0,248.5 L380.8,250.8 L377.7,254.0 L374.6,257.1 L373.0,259.0Z" fill="#0064fd"/>
<path d="M388.5,213.5 a0.9,0.9 0 1,0 1.9,0 a0.9,0.9 0 1,0 -1.9,0Z" fill="#0064fd"/>
<path d="M382.1,243.3 a1.4,1.9 0 1,0 2.8,0 a1.4,1.9 0 1,0 -2.8,0Z" fill="#9966fd"/>
</g>
<clipPath id="lg10"><rect x="389" y="259" width="80" height="32"/></clipPath>
<g clip-path="url(#lg10)">
<path d="M341.0,211.3 L469.0,211.3 L469.0,232.2 L458.1,236.4 L449.8,239.5 L441.4,242.7 L433.0,246.8 L424.7,251.0 L416.3,254.2 L407.9,257.3 L399.6,259.4 L391.2,261.5 L382.8,265.7 L374.5,269.8 L366.1,274.0 L357.7,278.2 L349.4,282.4 L341.0,284.5Z" fill="#dcfdcc"/>
</g>
<clipPath id="lg11"><rect x="85" y="287" width="128" height="128"/></clipPath>
<g clip-path="url(#lg11)">
<path d="M105.9,376.9 a6.3,6.3 0 1,0 12.5,0 a6.3,6.3 0 1,0 -12.5,0Z" fill="#dcfdcc"/>
<path d="M187.5,372.8 L193.8,366.5 L202.1,368.6 L210.5,364.4 L213.0,356.0 L213.0,391.6 L204.2,389.5 L195.8,387.4 L189.6,383.2Z" fill="#dcfdcc"/>
<path d="M158.2,401.0 a10.5,7.3 0 1,0 20.9,0 a10.5,7.3 0 1,0 -20.9,0Z" fill="#dcfdcc"/>
<path d="M116.4,410.4 a8.4,5.2 0 1,0 16.7,0 a8.4,5.2 0 1,0 -16.7,0Z" fill="#dcfdcc"/>
<path d="M197.9,370.7 L206.3,366.5 L213.0,366.5 L213.0,387.4 L202.1,385.3 L197.9,379.0Z" fill="#98fa98"/>
<path d="M207.4,359.2 a3.1,4.2 0 1,0 6.3,0 a3.1,4.2 0 1,0 -6.3,0Z" fill="#98fa98"/>
<path d="M190.6,376.9 L197.9,375.9 L204.2,379.0 L202.1,383.2 L193.8,383.2 L190.6,381.1Z" fill="#66fdfd"/>
<path d="M161.3,401.0 a7.3,3.8 0 1,0 14.6,0 a7.3,3.8 0 1,0 -14.6,0Z" fill="#66fdfd"/>
<path d="M119.5,410.4 a5.2,3.1 0 1,0 10.5,0 a5.2,3.1 0 1,0 -10.5,0Z" fill="#66fdfd"/>
</g>
<clipPath id="lg12"><rect x="213" y="287" width="128" height="128"/></clipPath>
<g clip-path="url(#lg12)">
<path d="M244.4,287.0 L341.0,287.0 L321.8,299.5 L313.4,312.1 L300.8,318.4 L290.4,320.5 L279.9,322.6 L271.6,326.7 L265.3,333.0 L261.1,337.2 L254.8,341.4 L244.4,345.6 L233.9,349.7 L225.5,356.0 L219.3,362.3 L213.0,366.5 L213.0,347.7 L225.5,345.6 L233.9,339.3 L238.1,328.8 L238.1,318.4 L238.1,307.9 L240.2,297.5Z" fill="#dcfdcc"/>
<path d="M256.9,356.0 a8.4,7.3 0 1,0 16.7,0 a8.4,7.3 0 1,0 -16.7,0Z" fill="#dcfdcc"/>
<path d="M277.8,342.4 a6.3,5.2 0 1,0 12.5,0 a6.3,5.2 0 1,0 -12.5,0Z" fill="#dcfdcc"/>
<path d="M210.9,383.2 a5.2,6.3 0 1,0 10.5,0 a5.2,6.3 0 1,0 -10.5,0Z" fill="#dcfdcc"/>
<path d="M233.9,392.6 a4.2,3.1 0 1,0 8.4,0 a4.2,3.1 0 1,0 -8.4,0Z" fill="#dcfdcc"/>
<path d="M251.7,396.8 a5.2,5.2 0 1,0 10.5,0 a5.2,5.2 0 1,0 -10.5,0Z" fill="#dcfdcc"/>
<path d="M254.8,307.9 L256.9,299.5 L263.2,295.4 L265.3,299.5 L261.1,307.9 L258.0,314.2Z" fill="#98fa98"/>
<path d="M275.7,314.2 L286.2,312.1 L296.7,314.2 L300.8,316.3 L292.5,318.4 L279.9,318.4Z" fill="#98fa98"/>
<path d="M212.0,367.5 a5.2,4.2 0 1,0 10.5,0 a5.2,4.2 0 1,0 -10.5,0Z" fill="#98fa98"/>
<path d="M311.3,287.0 L325.9,287.0 L319.7,292.2 L313.4,291.2Z" fill="#98fa98"/>
<path d="M256.9,297.5 L265.3,291.2 L271.6,287.0 L313.4,287.0 L305.0,299.5 L300.8,310.0 L292.5,314.2 L282.0,314.2 L275.7,318.4 L267.4,322.6 L261.1,328.8 L256.9,332.0 L255.9,326.7 L256.9,318.4 L259.0,310.0 L258.0,303.7Z" fill="#66fdfd"/>
<path d="M213.0,351.8 L221.4,349.7 L229.7,349.7 L235.0,351.8 L231.8,356.0 L223.5,359.2 L213.0,360.2Z" fill="#66fdfd"/>
<path d="M260.1,357.1 a6.3,4.6 0 1,0 12.5,0 a6.3,4.6 0 1,0 -12.5,0Z" fill="#66fdfd"/>
<path d="M267.4,291.2 L273.7,287.0 L307.1,287.0 L302.9,293.3 L296.7,299.5 L292.5,305.8 L286.2,301.6 L279.9,305.8 L273.7,310.0 L266.3,312.1 L264.2,306.9 L265.3,299.5Z" fill="#00c0fd"/>
<path d="M268.4,297.5 L273.7,290.1 L279.9,291.2 L281.0,296.4 L275.7,303.7 L269.5,304.8Z" fill="#0064fd"/>
<path d="M289.3,288.0 L298.8,287.0 L298.8,293.3 L294.6,295.4 L289.3,294.3Z" fill="#0064fd"/>
<path d="M263.2,357.1 a3.1,3.1 0 1,0 6.3,0 a3.1,3.1 0 1,0 -6.3,0Z" fill="#0064fd"/>
<path d="M270.7,295.8 a2.5,2.5 0 1,0 5.0,0 a2.5,2.5 0 1,0 -5.0,0Z" fill="#9966fd"/>
</g>
<clipPath id="lg13"><rect x="341" y="291" width="128" height="124"/></clipPath>
<g clip-path="url(#lg13)">
<path d="M359.8,405.8 a9.4,8.4 0 1,0 18.8,0 a9.4,8.4 0 1,0 -18.8,0Z" fill="#dcfdcc"/>
<path d="M361.3,405.8 a7.9,6.7 0 1,0 15.9,0 a7.9,6.7 0 1,0 -15.9,0Z" fill="#66fdfd"/>
<path d="M341.0,287.0 L347.3,287.0 L345.2,293.3 L341.0,295.4Z" fill="#66fdfd"/>
<path d="M363.4,405.8 a5.9,5.2 0 1,0 11.7,0 a5.9,5.2 0 1,0 -11.7,0Z" fill="#0064fd"/>
<path d="M365.5,405.8 a3.8,3.8 0 1,0 7.5,0 a3.8,3.8 0 1,0 -7.5,0Z" fill="#dd66fd"/>
</g>
<use href="#grid"/>
<use href="#coast"/>
</g>
<rect x="85.5" y="31.5" width="383" height="383" fill="none" stroke="#000" stroke-width="1"/>
<g transform="translate(469,0)"><g clip-path="url(#cpL)">
<rect x="85.75" y="30.75" width="382.5" height="382.5" fill="#fff"/>
<path d="M317.2,103.2 L325.1,93.7 L340.7,90.6 L359.6,89.0 L378.4,90.6 L390.9,92.2 L403.5,93.7 L416.0,96.9 L425.5,101.6 L431.7,106.3 L434.9,115.7 L434.9,128.3 L428.6,137.7 L419.2,142.4 L409.8,145.5 L397.2,147.1 L384.7,148.6 L378.4,153.4 L378.4,159.6 L384.7,165.9 L387.8,175.3 L387.8,184.7 L386.2,194.1 L381.5,200.4 L376.5,206.0 L373.7,210.8 L370.0,217.5 L365.8,224.9 L361.0,230.0 L356.4,234.4 L348.6,240.6 L340.7,246.9 L337.6,249.0 L332.9,249.0 L325.1,251.4 L317.2,250.6 L309.4,251.4 L301.5,253.7 L293.7,260.0 L285.8,264.7 L278.0,266.0 L257.0,273.2 L255.4,285.7 L249.1,295.2 L242.9,304.6 L238.2,314.0 L233.5,320.3 L224.0,329.7 L214.6,339.1 L208.4,348.5 L198.9,354.8 L186.4,357.9 L173.8,359.5 L169.1,364.2 L167.6,370.5 L161.3,376.7 L151.9,381.4 L142.5,383.0 L129.9,381.4 L120.5,376.7 L114.2,367.3 L111.1,357.9 L111.1,348.5 L114.2,339.1 L123.6,332.8 L133.1,331.2 L142.5,329.7 L148.7,326.5 L148.7,317.1 L155.0,307.7 L161.3,298.3 L170.7,290.5 L180.1,282.6 L189.5,273.2 L194.2,263.8 L195.8,254.4 L189.5,245.0 L186.4,235.5 L192.7,224.9 L202.1,218.6 L211.5,212.3 L220.9,206.1 L227.2,196.6 L236.6,190.4 L249.1,187.2 L261.7,184.1 L278.0,181.0 L290.5,172.2 L303.1,162.8 L307.8,150.2 L309.4,140.8 L315.6,128.3 L317.2,115.7Z" fill="#fee8c0"/>
<clipPath id="dom"><path d="M317.2,103.2 L325.1,93.7 L340.7,90.6 L359.6,89.0 L378.4,90.6 L390.9,92.2 L403.5,93.7 L416.0,96.9 L425.5,101.6 L431.7,106.3 L434.9,115.7 L434.9,128.3 L428.6,137.7 L419.2,142.4 L409.8,145.5 L397.2,147.1 L384.7,148.6 L378.4,153.4 L378.4,159.6 L384.7,165.9 L387.8,175.3 L387.8,184.7 L386.2,194.1 L381.5,200.4 L376.5,206.0 L373.7,210.8 L370.0,217.5 L365.8,224.9 L361.0,230.0 L356.4,234.4 L348.6,240.6 L340.7,246.9 L337.6,249.0 L332.9,249.0 L325.1,251.4 L317.2,250.6 L309.4,251.4 L301.5,253.7 L293.7,260.0 L285.8,264.7 L278.0,266.0 L257.0,273.2 L255.4,285.7 L249.1,295.2 L242.9,304.6 L238.2,314.0 L233.5,320.3 L224.0,329.7 L214.6,339.1 L208.4,348.5 L198.9,354.8 L186.4,357.9 L173.8,359.5 L169.1,364.2 L167.6,370.5 L161.3,376.7 L151.9,381.4 L142.5,383.0 L129.9,381.4 L120.5,376.7 L114.2,367.3 L111.1,357.9 L111.1,348.5 L114.2,339.1 L123.6,332.8 L133.1,331.2 L142.5,329.7 L148.7,326.5 L148.7,317.1 L155.0,307.7 L161.3,298.3 L170.7,290.5 L180.1,282.6 L189.5,273.2 L194.2,263.8 L195.8,254.4 L189.5,245.0 L186.4,235.5 L192.7,224.9 L202.1,218.6 L211.5,212.3 L220.9,206.1 L227.2,196.6 L236.6,190.4 L249.1,187.2 L261.7,184.1 L278.0,181.0 L290.5,172.2 L303.1,162.8 L307.8,150.2 L309.4,140.8 L315.6,128.3 L317.2,115.7Z"/></clipPath>
<g clip-path="url(#dom)">
<path d="M280.4,244.3 L283.5,240.1 L287.7,239.0 L291.9,235.9 L295.0,231.7 L298.2,228.6 L302.4,226.5 L307.6,225.5 L312.8,224.9 L318.1,223.4 L323.3,220.2 L328.5,218.7 L335.0,214.0 L340.7,208.3 L347.0,203.5 L353.3,200.4 L359.6,197.3 L367.4,194.1 L374.0,191.0 L380.0,188.8 L390.0,186.0 L398.0,186.0 L398.0,232.0 L365.8,231.8 L356.4,236.5 L347.0,241.2 L335.0,249.5 L329.6,251.6 L323.3,252.6 L314.9,252.1 L308.6,251.6 L304.5,250.6 L302.4,246.4 L297.1,245.3 L291.9,246.4 L286.7,248.5 L281.5,249.5Z" fill="#dcfdcc"/>
<path d="M281.5,258.9 L286.7,254.7 L291.9,252.6 L298.2,251.6 L303.4,251.1 L297.1,256.8 L291.9,262.1 L286.7,264.2 L282.5,263.1Z" fill="#dcfdcc"/>
<path d="M239.1,247.7 L243.3,247.7 L248.5,250.9 L251.6,251.9 L255.8,249.8 L259.0,246.7 L262.1,245.6 L265.2,247.7 L266.3,251.9 L268.4,256.1 L271.5,259.2 L272.6,262.4 L268.4,264.5 L264.2,265.5 L260.0,265.5 L255.8,266.6 L252.7,268.6 L251.6,272.8 L252.7,277.0 L255.8,279.1 L256.9,285.4 L255.8,289.6 L252.7,295.0 L214.0,295.0 L214.0,277.0 L218.2,274.9 L222.4,272.8 L225.5,270.7 L228.6,267.6 L231.8,262.4 L233.9,257.1 L236.0,253.0Z" fill="#dcfdcc"/>
<path d="M177.0,298.3 L189.5,296.7 L191.1,306.1 L180.1,309.3Z" fill="#dcfdcc"/>
<path d="M202.1,296.7 L211.5,295.2 L213.1,303.0 L203.6,305.2Z" fill="#dcfdcc"/>
<path d="M161.3,346.9 L172.3,345.4 L175.4,354.8 L164.4,359.5Z" fill="#dcfdcc"/>
<path d="M112.7,346.9 L126.8,343.8 L139.3,346.9 L137.8,354.8 L123.6,356.3 L114.2,354.8Z" fill="#dcfdcc"/>
<path d="M129.9,370.5 L145.6,368.9 L150.3,378.3 L133.1,381.4Z" fill="#dcfdcc"/>
<path d="M115.8,365.7 L125.2,365.7 L123.6,373.6 L116.7,373.0Z" fill="#dcfdcc"/>
<path d="M345.5,169.0 a3.1,3.1 0 1,0 6.3,0 a3.1,3.1 0 1,0 -6.3,0Z" fill="#dcfdcc"/>
<path d="M345.8,168.6 a2.8,2.8 0 1,0 5.6,0 a2.8,2.8 0 1,0 -5.6,0Z" fill="#dcfdcc"/>
<path d="M304.5,228.6 L310.7,227.5 L313.9,230.7 L309.7,233.3 L305.5,232.8Z" fill="#98fa98"/>
<path d="M323.3,251.6 L327.5,246.4 L333.7,242.2 L335.0,241.1 L335.0,249.5 L329.6,251.6Z" fill="#98fa98"/>
<path d="M258.0,254.0 L260.0,253.5 L263.2,256.6 L265.2,259.2 L264.2,260.8 L262.1,260.3 L259.0,257.0Z" fill="#98fa98"/>
<path d="M305.5,237.0 a4.2,3.7 0 1,0 8.4,0 a4.2,3.7 0 1,0 -8.4,0Z" fill="#98fa98"/>
<path d="M346.6,216.4 L351.8,212.8 L357.1,210.7 L362.3,208.6 L368.6,206.0 L374.0,203.9 L374.0,208.6 L368.6,210.7 L362.3,213.3 L356.0,215.9 L350.8,218.5 L346.6,219.6Z" fill="#98fa98"/>
<path d="M316.8,237.9 a5.8,3.1 0 1,0 11.5,0 a5.8,3.1 0 1,0 -11.5,0Z" fill="#98fa98"/>
<path d="M309.0,237.4 a2.6,2.6 0 1,0 5.2,0 a2.6,2.6 0 1,0 -5.2,0Z" fill="#98fa98"/>
<path d="M334.1,224.3 L339.3,224.8 L339.8,228.5 L337.2,229.5 L334.1,228.5Z" fill="#98fa98"/>
<path d="M325.7,249.4 L330.9,247.8 L336.1,247.3 L337.2,250.4 L330.9,252.0 L325.7,252.0Z" fill="#98fa98"/>
<path d="M132.1,347.9 a2.5,1.9 0 1,0 5.0,0 a2.5,1.9 0 1,0 -5.0,0Z" fill="#98fa98"/>
<path d="M116.7,368.9 a3.8,1.9 0 1,0 7.5,0 a3.8,1.9 0 1,0 -7.5,0Z" fill="#98fa98"/>
<path d="M260.5,258.7 a2.1,1.5 0 1,0 4.2,0 a2.1,1.5 0 1,0 -4.2,0Z" fill="#66fdfd"/>
<path d="M295.0,232.8 L298.2,229.6 L302.4,228.1 L305.5,228.6 L306.6,230.7 L303.4,233.8 L299.2,235.4 L296.1,235.4Z" fill="#66fdfd"/>
<path d="M333.5,252.0 L335.1,245.2 L337.2,238.9 L338.8,232.6 L339.8,227.4 L340.8,223.2 L340.3,222.2 L345.6,219.6 L351.8,217.5 L357.1,215.4 L362.3,212.8 L366.5,210.7 L370.7,208.1 L374.0,206.5 L374.0,225.3 L370.7,227.4 L366.5,230.6 L362.3,233.7 L358.1,235.8 L353.9,237.9 L349.7,241.0 L345.6,244.2 L341.4,247.3 L337.2,249.9Z" fill="#66fdfd"/>
<path d="M113.9,353.2 a1.9,3.1 0 1,0 3.8,0 a1.9,3.1 0 1,0 -3.8,0Z" fill="#66fdfd"/>
<path d="M113.3,370.5 a2.5,1.6 0 1,0 5.0,0 a2.5,1.6 0 1,0 -5.0,0Z" fill="#66fdfd"/>
<path d="M336.1,249.4 L337.7,243.1 L339.3,236.8 L340.8,229.5 L341.9,224.3 L343.5,222.7 L345.6,220.6 L351.8,219.1 L357.1,217.5 L362.3,214.9 L366.5,212.8 L370.7,210.2 L374.0,208.6 L374.0,223.2 L371.7,226.4 L368.6,229.5 L364.4,232.6 L360.2,234.7 L356.0,236.3 L351.8,238.9 L347.6,242.1 L343.5,245.2 L340.3,247.3Z" fill="#00c0fd"/>
<path d="M340.3,242.1 L341.9,233.7 L343.5,227.4 L344.7,222.2 L346.1,220.1 L348.7,221.1 L353.9,220.6 L358.1,219.6 L362.3,217.0 L366.5,214.9 L370.7,211.7 L374.0,210.7 L374.0,220.1 L370.7,222.2 L368.6,225.3 L365.4,228.5 L361.2,230.6 L357.1,230.6 L353.9,232.6 L350.8,235.8 L347.6,238.9 L344.5,241.0 L341.4,242.1Z" fill="#0064fd"/>
<path d="M344.5,226.4 L346.1,224.3 L348.7,223.2 L351.8,222.7 L356.0,222.7 L359.2,221.7 L362.3,219.1 L365.4,217.5 L367.5,219.6 L367.0,222.2 L364.4,224.8 L360.2,225.8 L357.1,225.3 L353.9,225.8 L351.3,228.5 L348.7,231.1 L346.1,232.6 L344.5,230.6Z" fill="#dd66fd"/>
</g>
<use href="#grid"/>
<use href="#coast" transform="translate(0,0)"/>
</g></g>
<rect x="555.5" y="31.5" width="383" height="383" fill="none" stroke="#000" stroke-width="1"/>
<text x="62.1" y="97.1" font-size="10.3" text-anchor="start" textLength="18.9" lengthAdjust="spacingAndGlyphs">45°N</text>
<text x="531.0" y="97.1" font-size="10.3" text-anchor="start" textLength="18.9" lengthAdjust="spacingAndGlyphs">45°N</text>
<text x="62.1" y="160.8" font-size="10.3" text-anchor="start" textLength="18.9" lengthAdjust="spacingAndGlyphs">40°N</text>
<text x="531.0" y="160.8" font-size="10.3" text-anchor="start" textLength="18.9" lengthAdjust="spacingAndGlyphs">40°N</text>
<text x="62.1" y="224.6" font-size="10.3" text-anchor="start" textLength="18.9" lengthAdjust="spacingAndGlyphs">35°N</text>
<text x="531.0" y="224.6" font-size="10.3" text-anchor="start" textLength="18.9" lengthAdjust="spacingAndGlyphs">35°N</text>
<text x="62.1" y="288.4" font-size="10.3" text-anchor="start" textLength="18.9" lengthAdjust="spacingAndGlyphs">30°N</text>
<text x="531.0" y="288.4" font-size="10.3" text-anchor="start" textLength="18.9" lengthAdjust="spacingAndGlyphs">30°N</text>
<text x="62.1" y="352.1" font-size="10.3" text-anchor="start" textLength="18.9" lengthAdjust="spacingAndGlyphs">25°N</text>
<text x="531.0" y="352.1" font-size="10.3" text-anchor="start" textLength="18.9" lengthAdjust="spacingAndGlyphs">25°N</text>
<text x="138.8" y="425" font-size="10.3" text-anchor="start" textLength="22.0" lengthAdjust="spacingAndGlyphs">125°E</text>
<text x="607.8" y="425" font-size="10.3" text-anchor="start" textLength="22.0" lengthAdjust="spacingAndGlyphs">125°E</text>
<text x="202.6" y="425" font-size="10.3" text-anchor="start" textLength="22.0" lengthAdjust="spacingAndGlyphs">130°E</text>
<text x="671.5" y="425" font-size="10.3" text-anchor="start" textLength="22.0" lengthAdjust="spacingAndGlyphs">130°E</text>
<text x="266.3" y="425" font-size="10.3" text-anchor="start" textLength="22.0" lengthAdjust="spacingAndGlyphs">135°E</text>
<text x="735.3" y="425" font-size="10.3" text-anchor="start" textLength="22.0" lengthAdjust="spacingAndGlyphs">135°E</text>
<text x="330.1" y="425" font-size="10.3" text-anchor="start" textLength="22.0" lengthAdjust="spacingAndGlyphs">140°E</text>
<text x="799.0" y="425" font-size="10.3" text-anchor="start" textLength="22.0" lengthAdjust="spacingAndGlyphs">140°E</text>
<text x="393.8" y="425" font-size="10.3" text-anchor="start" textLength="22.0" lengthAdjust="spacingAndGlyphs">145°E</text>
<text x="862.8" y="425" font-size="10.3" text-anchor="start" textLength="22.0" lengthAdjust="spacingAndGlyphs">145°E</text>
<text x="141.6" y="26.0" font-size="12.2" text-anchor="start" textLength="269" lengthAdjust="spacingAndGlyphs">GSMAP_NRT_1HR estimates for 20250527 01</text>
<text x="601.7" y="24.7" font-size="12.2" text-anchor="start" textLength="289" lengthAdjust="spacingAndGlyphs">Hourly Radar-AMeDAS analysis for 20250527 01</text>
<rect x="972" y="377.00" width="21.7" height="36.80" fill="#fee8c0"/>
<rect x="972" y="340.50" width="21.7" height="36.80" fill="#dcfdcc"/>
<rect x="972" y="304.00" width="21.7" height="36.80" fill="#98fa98"/>
<rect x="972" y="267.50" width="21.7" height="36.80" fill="#66fdfd"/>
<rect x="972" y="231.00" width="21.7" height="36.80" fill="#00c0fd"/>
<rect x="972" y="194.50" width="21.7" height="36.80" fill="#0064fd"/>
<rect x="972" y="158.00" width="21.7" height="36.80" fill="#9966fd"/>
<rect x="972" y="121.50" width="21.7" height="36.80" fill="#dd66fd"/>
<rect x="972" y="85.00" width="21.7" height="36.80" fill="#fd00fd"/>
<rect x="972" y="48.50" width="21.7" height="36.80" fill="#cc9944"/>
<path d="M972,48.5 L982.8,30.5 L993.7,48.5 Z" fill="#000"/>
<path d="M972,48.5 L982.8,30.5 L993.7,48.5 V413.5 H972 Z" fill="none" stroke="#000" stroke-width="0.8"/>
<path d="M993.7,413.50H998.5" stroke="#000" stroke-width="0.8"/>
<text x="1001.3" y="419.10" font-size="12.3" text-anchor="start" textLength="6.7" lengthAdjust="spacingAndGlyphs">0</text>
<path d="M993.7,377.00H998.5" stroke="#000" stroke-width="0.8"/>
<text x="1001.3" y="382.60" font-size="12.3" text-anchor="start" textLength="23.9" lengthAdjust="spacingAndGlyphs">0.01</text>
<path d="M993.7,340.50H998.5" stroke="#000" stroke-width="0.8"/>
<text x="1001.3" y="346.10" font-size="12.3" text-anchor="start" textLength="17.0" lengthAdjust="spacingAndGlyphs">0.5</text>
<path d="M993.7,304.00H998.5" stroke="#000" stroke-width="0.8"/>
<text x="1001.3" y="309.60" font-size="12.3" text-anchor="start" textLength="6.7" lengthAdjust="spacingAndGlyphs">1</text>
<path d="M993.7,267.50H998.5" stroke="#000" stroke-width="0.8"/>
<text x="1001.3" y="273.10" font-size="12.3" text-anchor="start" textLength="6.7" lengthAdjust="spacingAndGlyphs">2</text>
<path d="M993.7,231.00H998.5" stroke="#000" stroke-width="0.8"/>
<text x="1001.3" y="236.60" font-size="12.3" text-anchor="start" textLength="6.7" lengthAdjust="spacingAndGlyphs">3</text>
<path d="M993.7,194.50H998.5" stroke="#000" stroke-width="0.8"/>
<text x="1001.3" y="200.10" font-size="12.3" text-anchor="start" textLength="6.7" lengthAdjust="spacingAndGlyphs">4</text>
<path d="M993.7,158.00H998.5" stroke="#000" stroke-width="0.8"/>
<text x="1001.3" y="163.60" font-size="12.3" text-anchor="start" textLength="6.7" lengthAdjust="spacingAndGlyphs">5</text>
<path d="M993.7,121.50H998.5" stroke="#000" stroke-width="0.8"/>
<text x="1001.3" y="127.10" font-size="12.3" text-anchor="start" textLength="12.700000000000001" lengthAdjust="spacingAndGlyphs">10</text>
<path d="M993.7,85.00H998.5" stroke="#000" stroke-width="0.8"/>
<text x="1001.3" y="90.60" font-size="12.3" text-anchor="start" textLength="12.700000000000001" lengthAdjust="spacingAndGlyphs">25</text>
<path d="M993.7,48.50H998.5" stroke="#000" stroke-width="0.8"/>
<text x="1001.3" y="54.10" font-size="12.3" text-anchor="start" textLength="12.700000000000001" lengthAdjust="spacingAndGlyphs">50</text>
<text x="561.3" y="407.0" font-size="10.5" text-anchor="start" textLength="102.7" lengthAdjust="spacingAndGlyphs">Provided by JWA/JMA</text>
<rect x="810.5" y="271.5" width="105.0" height="104.0" fill="#fff"/>
<path d="M859.7,331.2h4.2M861.8,329.1v4.2M864.6,332.2h4.2M866.7,330.1v4.2M896.5,338.3h4.2M898.6,336.2v4.2M884.2,344.5h4.2M886.3,342.4v4.2M865.8,351.4h4.2M867.9,349.3v4.2M852.9,344.5h4.2M855.0,342.4v4.2M856.6,347.2h4.2M858.7,345.1v4.2M843.1,344.1h4.2M845.2,342.0v4.2M843.8,345.9h4.2M845.9,343.8v4.2M841.9,351.4h4.2M844.0,349.3v4.2M854.8,352.7h4.2M856.9,350.6v4.2M858.5,358.2h4.2M860.6,356.1v4.2M846.8,355.7h4.2M848.9,353.6v4.2M847.4,357.6h4.2M849.5,355.5v4.2M850.5,361.2h4.2M852.6,359.1v4.2M843.8,359.4h4.2M845.9,357.3v4.2M839.5,358.2h4.2M841.6,356.1v4.2M845.6,371.7h4.2M847.7,369.6v4.2M859.7,367.4h4.2M861.8,365.3v4.2M871.3,362.5h4.2M873.4,360.4v4.2M875.6,363.1h4.2M877.7,361.0v4.2M834.0,362.5h4.2M836.1,360.4v4.2M832.1,366.8h4.2M834.2,364.7v4.2M833.3,369.8h4.2M835.4,367.7v4.2M829.7,366.8h4.2M831.8,364.7v4.2M822.3,369.8h4.2M824.4,367.7v4.2M824.8,363.7h4.2M826.9,361.6v4.2M829.1,332.5h4.2M831.2,330.4v4.2M832.1,335.5h4.2M834.2,333.4v4.2M835.2,335.5h4.2M837.3,333.4v4.2M821.7,338.6h4.2M823.8,336.5v4.2M833.3,341.6h4.2M835.4,339.5v4.2M826.0,346.5h4.2M828.1,344.4v4.2M829.7,349.0h4.2M831.8,346.9v4.2M828.4,349.6h4.2M830.5,347.5v4.2M821.1,333.7h4.2M823.2,331.6v4.2M819.2,336.1h4.2M821.3,334.0v4.2M838.9,350.2h4.2M841.0,348.1v4.2M842.5,352.7h4.2M844.6,350.6v4.2M828.4,370.4h4.2M830.5,368.3v4.2M835.8,372.9h4.2M837.9,370.8v4.2M838.9,372.9h4.2M841.0,370.8v4.2M824.1,369.2h4.2M826.2,367.1v4.2M818.6,366.2h4.2M820.7,364.1v4.2M824.8,370.4h4.2M826.9,368.3v4.2M815.6,332.5h4.2M817.7,330.4v4.2M818.0,330.6h4.2M820.1,328.5v4.2M822.3,347.2h4.2M824.4,345.1v4.2M818.6,351.4h4.2M820.7,349.3v4.2M823.5,354.5h4.2M825.6,352.4v4.2M815.0,355.7h4.2M817.1,353.6v4.2M816.8,358.2h4.2M818.9,356.1v4.2M821.1,361.2h4.2M823.2,359.1v4.2M817.4,369.2h4.2M819.5,367.1v4.2M813.7,372.9h4.2M815.8,370.8v4.2M812.5,344.7h4.2M814.6,342.6v4.2M815.0,339.8h4.2M817.1,337.7v4.2M819.2,345.9h4.2M821.3,343.8v4.2M841.9,367.4h4.2M844.0,365.3v4.2M840.1,369.2h4.2M842.2,367.1v4.2M837.6,360.6h4.2M839.7,358.5v4.2M848.7,361.2h4.2M850.8,359.1v4.2M851.7,361.2h4.2M853.8,359.1v4.2M834.1,311.4h4.2M836.2,309.3v4.2M832.1,326.6h4.2M834.2,324.5v4.2M837.7,326.6h4.2M839.8,324.5v4.2M829.6,326.6h4.2M831.7,324.5v4.2M828.7,332.9h4.2M830.8,330.8v4.2M832.8,335.9h4.2M834.9,333.8v4.2M822.3,326.6h4.2M824.4,324.5v4.2M819.4,333.9h4.2M821.5,331.8v4.2M827.9,319.9h4.2M830.0,317.8v4.2M831.1,340.3h4.2M833.2,338.2v4.2M819.8,340.3h4.2M821.9,338.2v4.2M826.7,346.2h4.2M828.8,344.1v4.2M859.8,331.0h4.2M861.9,328.9v4.2M864.7,332.2h4.2M866.8,330.1v4.2M896.5,338.3h4.2M898.6,336.2v4.2M884.0,344.4h4.2M886.1,342.3v4.2M809.5,350.4h4.2M811.6,348.3v4.2M810.2,351.8h4.2M812.3,349.7v4.2M809.4,336.8h4.2M811.5,334.7v4.2M811.0,362.6h4.2M813.1,360.5v4.2M810.0,372.7h4.2M812.1,370.6v4.2M809.8,337.3h4.2M811.9,335.2v4.2M815.1,366.4h4.2M817.2,364.3v4.2M809.1,343.7h4.2M811.2,341.6v4.2M811.0,361.5h4.2M813.1,359.4v4.2M809.8,375.0h4.2M811.9,372.9v4.2M812.6,331.5h4.2M814.7,329.4v4.2M813.2,347.2h4.2M815.3,345.1v4.2M816.1,365.7h4.2M818.2,363.6v4.2M814.1,366.1h4.2M816.2,364.0v4.2M811.9,367.8h4.2M814.0,365.7v4.2M811.8,342.7h4.2M813.9,340.6v4.2M809.9,325.9h4.2M812.0,323.8v4.2M809.3,353.9h4.2M811.4,351.8v4.2M809.8,339.5h4.2M811.9,337.4v4.2M810.2,370.6h4.2M812.3,368.5v4.2M810.3,334.2h4.2M812.4,332.1v4.2M811.2,358.7h4.2M813.3,356.6v4.2M814.0,366.4h4.2M816.1,364.3v4.2M809.7,347.9h4.2M811.8,345.8v4.2M810.6,355.9h4.2M812.7,353.8v4.2M811.3,365.7h4.2M813.4,363.6v4.2M812.8,333.4h4.2M814.9,331.3v4.2M809.1,327.4h4.2M811.2,325.3v4.2M815.7,372.3h4.2M817.8,370.2v4.2M810.6,359.6h4.2M812.7,357.5v4.2M809.6,374.3h4.2M811.7,372.2v4.2M808.7,370.8h4.2M810.8,368.7v4.2M810.5,369.8h4.2M812.6,367.7v4.2M814.1,371.5h4.2M816.2,369.4v4.2M812.4,336.7h4.2M814.5,334.6v4.2M809.1,368.6h4.2M811.2,366.5v4.2M809.3,350.8h4.2M811.4,348.7v4.2M814.5,358.3h4.2M816.6,356.2v4.2M817.3,339.0h4.2M819.4,336.9v4.2M809.7,324.1h4.2M811.8,322.0v4.2M810.5,375.0h4.2M812.6,372.9v4.2M810.8,374.1h4.2M812.9,372.0v4.2M811.1,374.0h4.2M813.2,371.9v4.2M811.8,317.9h4.2M813.9,315.8v4.2M809.6,364.9h4.2M811.7,362.8v4.2M809.4,324.8h4.2M811.5,322.7v4.2M810.6,374.2h4.2M812.7,372.1v4.2M809.9,328.3h4.2M812.0,326.2v4.2M817.5,338.0h4.2M819.6,335.9v4.2M812.1,356.7h4.2M814.2,354.6v4.2M809.9,333.2h4.2M812.0,331.1v4.2M810.3,336.8h4.2M812.4,334.7v4.2M813.0,369.4h4.2M815.1,367.3v4.2M819.6,351.6h4.2M821.7,349.5v4.2M809.9,325.7h4.2M812.0,323.6v4.2M809.3,348.1h4.2M811.4,346.0v4.2M810.9,369.4h4.2M813.0,367.3v4.2M811.0,370.3h4.2M813.1,368.2v4.2M811.2,350.6h4.2M813.3,348.5v4.2M810.5,354.9h4.2M812.6,352.8v4.2M808.8,353.3h4.2M810.9,351.2v4.2M809.0,369.7h4.2M811.1,367.6v4.2M811.9,365.0h4.2M814.0,362.9v4.2M811.0,339.4h4.2M813.1,337.3v4.2M812.5,348.8h4.2M814.6,346.7v4.2M808.9,351.5h4.2M811.0,349.4v4.2M809.9,331.4h4.2M812.0,329.3v4.2M811.7,318.7h4.2M813.8,316.6v4.2M808.9,362.2h4.2M811.0,360.1v4.2M809.7,364.2h4.2M811.8,362.1v4.2M816.1,370.7h4.2M818.2,368.6v4.2M809.7,362.1h4.2M811.8,360.0v4.2M813.5,330.9h4.2M815.6,328.8v4.2M811.4,368.3h4.2M813.5,366.2v4.2M810.4,366.3h4.2M812.5,364.2v4.2M811.4,362.4h4.2M813.5,360.3v4.2M809.2,360.0h4.2M811.3,357.9v4.2M819.8,366.7h4.2M821.9,364.6v4.2M810.1,339.0h4.2M812.2,336.9v4.2M809.0,355.7h4.2M811.1,353.6v4.2M813.3,332.5h4.2M815.4,330.4v4.2M811.6,372.5h4.2M813.7,370.4v4.2M809.3,372.1h4.2M811.4,370.0v4.2M812.6,335.4h4.2M814.7,333.3v4.2M818.4,359.6h4.2M820.5,357.5v4.2M815.1,350.8h4.2M817.2,348.7v4.2M810.9,367.9h4.2M813.0,365.8v4.2M810.6,340.0h4.2M812.7,337.9v4.2M809.3,367.2h4.2M811.4,365.1v4.2M809.0,341.2h4.2M811.1,339.1v4.2M809.2,353.3h4.2M811.3,351.2v4.2M810.0,352.3h4.2M812.1,350.2v4.2M809.3,351.8h4.2M811.4,349.7v4.2M811.9,348.2h4.2M814.0,346.1v4.2M809.8,373.0h4.2M811.9,370.9v4.2M809.2,375.3h4.2M811.3,373.2v4.2M818.1,335.1h4.2M820.2,333.0v4.2M809.2,368.1h4.2M811.3,366.0v4.2M810.9,330.5h4.2M813.0,328.4v4.2M812.4,356.8h4.2M814.5,354.7v4.2M809.3,357.6h4.2M811.4,355.5v4.2M812.1,375.3h4.2M814.2,373.2v4.2M809.3,356.8h4.2M811.4,354.7v4.2M809.3,348.1h4.2M811.4,346.0v4.2M808.9,366.4h4.2M811.0,364.3v4.2M812.6,360.2h4.2M814.7,358.1v4.2M810.4,374.9h4.2M812.5,372.8v4.2M814.1,370.1h4.2M816.2,368.0v4.2M814.4,336.4h4.2M816.5,334.3v4.2M814.1,356.5h4.2M816.2,354.4v4.2M811.8,375.2h4.2M813.9,373.1v4.2M812.6,336.4h4.2M814.7,334.3v4.2M812.6,370.2h4.2M814.7,368.1v4.2M809.0,375.4h4.2M811.1,373.3v4.2M812.4,341.0h4.2M814.5,338.9v4.2M808.8,363.1h4.2M810.9,361.0v4.2M809.0,345.7h4.2M811.1,343.6v4.2M810.7,343.5h4.2M812.8,341.4v4.2M809.1,368.6h4.2M811.2,366.5v4.2M812.8,371.0h4.2M814.9,368.9v4.2M809.1,344.1h4.2M811.2,342.0v4.2M810.3,353.8h4.2M812.4,351.7v4.2M812.8,333.7h4.2M814.9,331.6v4.2M811.3,354.0h4.2M813.4,351.9v4.2M816.4,348.4h4.2M818.5,346.3v4.2M809.0,348.3h4.2M811.1,346.2v4.2M814.5,367.5h4.2M816.6,365.4v4.2M810.2,364.3h4.2M812.3,362.2v4.2M809.4,375.3h4.2M811.5,373.2v4.2M815.0,361.4h4.2M817.1,359.3v4.2M810.4,368.1h4.2M812.5,366.0v4.2M813.6,332.1h4.2M815.7,330.0v4.2M808.8,358.0h4.2M810.9,355.9v4.2M810.8,368.0h4.2M812.9,365.9v4.2M810.7,370.7h4.2M812.8,368.6v4.2M811.1,331.7h4.2M813.2,329.6v4.2M808.7,358.0h4.2M810.8,355.9v4.2M811.0,326.5h4.2M813.1,324.4v4.2M813.1,341.8h4.2M815.2,339.7v4.2M816.9,340.3h4.2M819.0,338.2v4.2M819.1,353.4h4.2M821.2,351.3v4.2M810.6,340.9h4.2M812.7,338.8v4.2M811.0,349.4h4.2M813.1,347.3v4.2M809.1,367.9h4.2M811.2,365.8v4.2M810.4,333.1h4.2M812.5,331.0v4.2M814.9,369.0h4.2M817.0,366.9v4.2M809.2,364.3h4.2M811.3,362.2v4.2M809.9,362.4h4.2M812.0,360.3v4.2M811.9,351.0h4.2M814.0,348.9v4.2M811.6,367.9h4.2M813.7,365.8v4.2" stroke="#000" stroke-width="0.75" fill="none"/>
<path d="M810.5,375.5L915.5,271.5" stroke="#000" stroke-width="1"/>
<rect x="810.5" y="271.5" width="105.0" height="104.0" fill="none" stroke="#000" stroke-width="1"/>
<path d="M810.5,375.50h-3.2M810.50,375.5v3.2M810.5,370.30h-1.8M815.75,375.5v1.8M810.5,365.10h-1.8M821.00,375.5v1.8M810.5,359.90h-1.8M826.25,375.5v1.8M810.5,354.70h-3.2M831.50,375.5v3.2M810.5,349.50h-1.8M836.75,375.5v1.8M810.5,344.30h-1.8M842.00,375.5v1.8M810.5,339.10h-1.8M847.25,375.5v1.8M810.5,333.90h-3.2M852.50,375.5v3.2M810.5,328.70h-1.8M857.75,375.5v1.8M810.5,323.50h-1.8M863.00,375.5v1.8M810.5,318.30h-1.8M868.25,375.5v1.8M810.5,313.10h-3.2M873.50,375.5v3.2M810.5,307.90h-1.8M878.75,375.5v1.8M810.5,302.70h-1.8M884.00,375.5v1.8M810.5,297.50h-1.8M889.25,375.5v1.8M810.5,292.30h-3.2M894.50,375.5v3.2M810.5,287.10h-1.8M899.75,375.5v1.8M810.5,281.90h-1.8M905.00,375.5v1.8M810.5,276.70h-1.8M910.25,375.5v1.8M810.5,271.50h-3.2M915.50,375.5v3.2" stroke="#000" stroke-width="0.8" fill="none"/>
<text x="803.0" y="378.4" font-size="8.2" text-anchor="end" textLength="3.7" lengthAdjust="spacingAndGlyphs">0</text>
<text x="810.5" y="388.6" font-size="8.2" text-anchor="middle" textLength="3.7" lengthAdjust="spacingAndGlyphs">0</text>
<text x="803.0" y="357.6" font-size="8.2" text-anchor="end" textLength="3.7" lengthAdjust="spacingAndGlyphs">2</text>
<text x="831.5" y="388.6" font-size="8.2" text-anchor="middle" textLength="3.7" lengthAdjust="spacingAndGlyphs">2</text>
<text x="803.0" y="336.8" font-size="8.2" text-anchor="end" textLength="3.7" lengthAdjust="spacingAndGlyphs">4</text>
<text x="852.5" y="388.6" font-size="8.2" text-anchor="middle" textLength="3.7" lengthAdjust="spacingAndGlyphs">4</text>
<text x="803.0" y="316.0" font-size="8.2" text-anchor="end" textLength="3.7" lengthAdjust="spacingAndGlyphs">6</text>
<text x="873.5" y="388.6" font-size="8.2" text-anchor="middle" textLength="3.7" lengthAdjust="spacingAndGlyphs">6</text>
<text x="803.0" y="295.2" font-size="8.2" text-anchor="end" textLength="3.7" lengthAdjust="spacingAndGlyphs">8</text>
<text x="894.5" y="388.6" font-size="8.2" text-anchor="middle" textLength="3.7" lengthAdjust="spacingAndGlyphs">8</text>
<text x="803.0" y="274.4" font-size="8.2" text-anchor="end" textLength="7.4" lengthAdjust="spacingAndGlyphs">10</text>
<text x="915.5" y="388.6" font-size="8.2" text-anchor="middle" textLength="7.4" lengthAdjust="spacingAndGlyphs">10</text>
<text x="838.5" y="398.8" font-size="10.4" text-anchor="start" textLength="46" lengthAdjust="spacingAndGlyphs">ANALYSIS</text>
<text x="0" y="0" font-size="10" transform="translate(790.8,324.3) rotate(-90)" text-anchor="middle" textLength="84" lengthAdjust="spacingAndGlyphs">GSMAP_NRT_1HR</text>
<text x="68.5" y="446.5" font-size="10.2" text-anchor="start" textLength="143.3" lengthAdjust="spacingAndGlyphs">Hourly fraction by occurence</text>
<rect x="74.40" y="452.5" width="122.00" height="18.0" fill="#fee8c0" stroke="#111" stroke-width="0.6"/>
<rect x="196.40" y="452.5" width="1.00" height="18.0" fill="#dcfdcc" stroke="#111" stroke-width="0.6"/>
<rect x="197.40" y="452.5" width="1.70" height="18.0" fill="#98fa98" stroke="#111" stroke-width="0.6"/>
<rect x="199.10" y="452.5" width="1.30" height="18.0" fill="#66fdfd" stroke="#111" stroke-width="0.6"/>
<rect x="200.40" y="452.5" width="1.80" height="18.0" fill="#00c0fd" stroke="#111" stroke-width="0.6"/>
<rect x="202.20" y="452.5" width="4.10" height="18.0" fill="#0064fd" stroke="#111" stroke-width="0.6"/>
<rect x="206.30" y="452.5" width="0.70" height="18.0" fill="#9966fd" stroke="#111" stroke-width="0.6"/>
<rect x="207.00" y="452.5" width="0.40" height="18.0" fill="#dd66fd" stroke="#111" stroke-width="0.6"/>
<rect x="207.40" y="452.5" width="0.20" height="18.0" fill="#fd00fd" stroke="#111" stroke-width="0.6"/>
<rect x="74.40" y="479.5" width="112.00" height="18.0" fill="#fee8c0" stroke="#111" stroke-width="0.6"/>
<rect x="186.40" y="479.5" width="15.20" height="18.0" fill="#dcfdcc" stroke="#111" stroke-width="0.6"/>
<rect x="201.60" y="479.5" width="1.20" height="18.0" fill="#98fa98" stroke="#111" stroke-width="0.6"/>
<rect x="202.80" y="479.5" width="0.70" height="18.0" fill="#66fdfd" stroke="#111" stroke-width="0.6"/>
<rect x="203.50" y="479.5" width="1.00" height="18.0" fill="#00c0fd" stroke="#111" stroke-width="0.6"/>
<rect x="204.50" y="479.5" width="2.10" height="18.0" fill="#0064fd" stroke="#111" stroke-width="0.6"/>
<rect x="206.60" y="479.5" width="0.60" height="18.0" fill="#9966fd" stroke="#111" stroke-width="0.6"/>
<rect x="207.20" y="479.5" width="0.30" height="18.0" fill="#dd66fd" stroke="#111" stroke-width="0.6"/>
<rect x="207.50" y="479.5" width="0.10" height="18.0" fill="#fd00fd" stroke="#111" stroke-width="0.6"/>
<path d="M74.40,470.5L74.40,479.5M196.40,470.5L186.40,479.5M197.40,470.5L201.60,479.5M199.10,470.5L202.80,479.5M200.40,470.5L203.50,479.5M202.20,470.5L204.50,479.5M206.30,470.5L206.60,479.5M207.00,470.5L207.20,479.5M207.40,470.5L207.50,479.5M207.60,470.5L207.60,479.5M207.60,470.5L207.60,479.5" stroke="#111" stroke-width="0.8" fill="none"/>
<text x="47.6" y="465.7" font-size="10.2" text-anchor="start" textLength="15.6" lengthAdjust="spacingAndGlyphs">Est</text>
<text x="48.1" y="492.6" font-size="10.2" text-anchor="start" textLength="17.3" lengthAdjust="spacingAndGlyphs">Obs</text>
<text x="58.3" y="509.6" font-size="10.2" text-anchor="start" textLength="14.6" lengthAdjust="spacingAndGlyphs">0%</text>
<text x="101.7" y="509.6" font-size="10.2" text-anchor="start" textLength="67.2" lengthAdjust="spacingAndGlyphs">Areal fraction</text>
<text x="195.1" y="509.6" font-size="10.2" text-anchor="start" textLength="26.5" lengthAdjust="spacingAndGlyphs">100%</text>
<text x="72.7" y="527.8" font-size="10.2" text-anchor="start" textLength="134.2" lengthAdjust="spacingAndGlyphs">Hourly fraction of total rain</text>
<rect x="74.40" y="533.5" width="1.20" height="17.799999999999955" fill="#fee8c0" stroke="#111" stroke-width="0.6"/>
<rect x="75.60" y="533.5" width="2.00" height="17.799999999999955" fill="#dcfdcc" stroke="#111" stroke-width="0.6"/>
<rect x="77.60" y="533.5" width="4.90" height="17.799999999999955" fill="#98fa98" stroke="#111" stroke-width="0.6"/>
<rect x="82.50" y="533.5" width="21.80" height="17.799999999999955" fill="#66fdfd" stroke="#111" stroke-width="0.6"/>
<rect x="104.30" y="533.5" width="37.00" height="17.799999999999955" fill="#00c0fd" stroke="#111" stroke-width="0.6"/>
<rect x="141.30" y="533.5" width="35.50" height="17.799999999999955" fill="#0064fd" stroke="#111" stroke-width="0.6"/>
<rect x="176.80" y="533.5" width="22.60" height="17.799999999999955" fill="#9966fd" stroke="#111" stroke-width="0.6"/>
<rect x="199.40" y="533.5" width="8.10" height="17.799999999999955" fill="#dd66fd" stroke="#111" stroke-width="0.6"/>
<rect x="74.40" y="560.3" width="1.40" height="18.0" fill="#fee8c0" stroke="#111" stroke-width="0.6"/>
<rect x="75.80" y="560.3" width="15.50" height="18.0" fill="#dcfdcc" stroke="#111" stroke-width="0.6"/>
<rect x="91.30" y="560.3" width="7.10" height="18.0" fill="#98fa98" stroke="#111" stroke-width="0.6"/>
<rect x="98.40" y="560.3" width="10.90" height="18.0" fill="#66fdfd" stroke="#111" stroke-width="0.6"/>
<rect x="109.30" y="560.3" width="14.90" height="18.0" fill="#00c0fd" stroke="#111" stroke-width="0.6"/>
<rect x="124.20" y="560.3" width="16.30" height="18.0" fill="#0064fd" stroke="#111" stroke-width="0.6"/>
<rect x="140.50" y="560.3" width="8.90" height="18.0" fill="#9966fd" stroke="#111" stroke-width="0.6"/>
<rect x="149.40" y="560.3" width="9.80" height="18.0" fill="#dd66fd" stroke="#111" stroke-width="0.6"/>
<path d="M74.40,551.3L74.40,560.3M75.60,551.3L75.80,560.3M77.60,551.3L91.30,560.3M82.50,551.3L98.40,560.3M104.30,551.3L109.30,560.3M141.30,551.3L124.20,560.3M176.80,551.3L140.50,560.3M199.40,551.3L149.40,560.3M207.50,551.3L159.20,560.3M207.50,551.3L159.20,560.3M207.50,551.3L159.20,560.3" stroke="#111" stroke-width="0.8" fill="none"/>
<text x="47.8" y="546.7" font-size="10.2" text-anchor="start" textLength="15.6" lengthAdjust="spacingAndGlyphs">Est</text>
<text x="48.2" y="573.6" font-size="10.2" text-anchor="start" textLength="17.3" lengthAdjust="spacingAndGlyphs">Obs</text>
<text x="58.9" y="589.2" font-size="10.2" text-anchor="start" textLength="163.6" lengthAdjust="spacingAndGlyphs">Rainfall accumulation by amount</text>
<path d="M277.5,478.5H401.5V573.5H277.5Z M339.5,478.5V573.5 M277.5,526.5H401.5" stroke="#000" stroke-width="1" fill="none"/>
<text x="296.4" y="455.0" font-size="10.2" text-anchor="start" textLength="84.7" lengthAdjust="spacingAndGlyphs">GSMAP_NRT_1HR</text>
<text x="294.0" y="469.8" font-size="10.2" text-anchor="start" textLength="28.3" lengthAdjust="spacingAndGlyphs">&lt;0.01</text>
<text x="355.5" y="469.8" font-size="10.2" text-anchor="start" textLength="28.5" lengthAdjust="spacingAndGlyphs">≥0.01</text>
<text x="308.0" y="505.6" font-size="10.2" text-anchor="middle" textLength="23.3" lengthAdjust="spacingAndGlyphs">2843</text>
<text x="370.0" y="505.6" font-size="10.2" text-anchor="middle" textLength="17.5" lengthAdjust="spacingAndGlyphs">123</text>
<text x="308.0" y="553.2" font-size="10.2" text-anchor="middle" textLength="11.6" lengthAdjust="spacingAndGlyphs">24</text>
<text x="370.5" y="553.2" font-size="10.2" text-anchor="middle" textLength="11.6" lengthAdjust="spacingAndGlyphs">59</text>
<text x="274.2" y="505.3" font-size="10.2" text-anchor="end" textLength="28.1" lengthAdjust="spacingAndGlyphs">&lt;0.01</text>
<text x="273.8" y="553.2" font-size="10.2" text-anchor="end" textLength="28.3" lengthAdjust="spacingAndGlyphs">≥0.01</text>
<text x="0" y="0" font-size="10.2" transform="translate(245.6,520.3) rotate(-90)" text-anchor="middle" textLength="45" lengthAdjust="spacingAndGlyphs">ANALYSIS</text>
<text x="460.5" y="453.9" font-size="10.2" text-anchor="start" textLength="392.8" lengthAdjust="spacingAndGlyphs">Validation statistics for 20250527 01  n=3049 Valid. grid=0.25° Units=mm/hr.</text>
<path d="M457.4,457.5H997" stroke="#000" stroke-width="1" stroke-dasharray="3.7,1.6"/>
<path d="M457.4,480.5H758" stroke="#000" stroke-width="1" stroke-dasharray="3.7,1.6"/>
<text x="609.1" y="475.0" font-size="10.2" text-anchor="start" textLength="46.8" lengthAdjust="spacingAndGlyphs">ANALYSIS</text>
<text x="671.4" y="475.0" font-size="10.2" text-anchor="start" textLength="84.3" lengthAdjust="spacingAndGlyphs">GSMAP_NRT_1HR</text>
<text x="460.5" y="498.8" font-size="10.2" text-anchor="start" textLength="126.7" lengthAdjust="spacingAndGlyphs">Num of gridpoints raining</text>
<text x="641.0" y="498.8" font-size="10.2" text-anchor="middle">83</text>
<text x="721.2" y="498.8" font-size="10.2" text-anchor="middle">182</text>
<text x="460.5" y="518.5" font-size="10.2" text-anchor="start" textLength="63.3" lengthAdjust="spacingAndGlyphs">Average rain</text>
<text x="641.0" y="518.5" font-size="10.2" text-anchor="middle">0.1</text>
<text x="721.2" y="518.5" font-size="10.2" text-anchor="middle">0.2</text>
<text x="460.5" y="538.5" font-size="10.2" text-anchor="start" textLength="78.1" lengthAdjust="spacingAndGlyphs">Conditional rain</text>
<text x="641.0" y="538.5" font-size="10.2" text-anchor="middle">3.9</text>
<text x="721.2" y="538.5" font-size="10.2" text-anchor="middle">2.8</text>
<text x="641.0" y="557.9" font-size="10.2" text-anchor="middle">0.2</text>
<text x="721.2" y="557.9" font-size="10.2" text-anchor="middle">0.3</text>
<text x="460.5" y="577.6" font-size="10.2" text-anchor="start" textLength="70.8" lengthAdjust="spacingAndGlyphs">Maximum rain</text>
<text x="641.0" y="577.6" font-size="10.2" text-anchor="middle">8.4</text>
<text x="721.2" y="577.6" font-size="10.2" text-anchor="middle">6.1</text>
<text x="461.3" y="557.9" font-size="10.2" textLength="133" lengthAdjust="spacingAndGlyphs">Rain volume (mm km<tspan font-size="7" dy="-4">2</tspan><tspan dy="4">10</tspan><tspan font-size="7" dy="-4">6</tspan><tspan dy="4">)</tspan></text>
<text x="784.5" y="472.2" font-size="10.2" text-anchor="start" textLength="85.0" lengthAdjust="spacingAndGlyphs">Mean abs error =</text>
<text x="884.0" y="472.2" font-size="10.2" text-anchor="start" textLength="14.9" lengthAdjust="spacingAndGlyphs">0.2</text>
<text x="784.5" y="489.2" font-size="10.2" text-anchor="start" textLength="59.4" lengthAdjust="spacingAndGlyphs">RMS error =</text>
<text x="857.9" y="489.2" font-size="10.2" text-anchor="start" textLength="14.8" lengthAdjust="spacingAndGlyphs">0.6</text>
<text x="784.5" y="506.0" font-size="10.2" text-anchor="start" textLength="93.6" lengthAdjust="spacingAndGlyphs">Correlation coeff =</text>
<text x="885.4" y="506.0" font-size="10.2" text-anchor="start" textLength="27.8" lengthAdjust="spacingAndGlyphs">0.496</text>
<text x="784.5" y="523.0" font-size="10.2" text-anchor="start" textLength="87.4" lengthAdjust="spacingAndGlyphs">Frequency bias =</text>
<text x="878.6" y="523.0" font-size="10.2" text-anchor="start" textLength="27.3" lengthAdjust="spacingAndGlyphs">2.193</text>
<text x="784.5" y="540.0999999999999" font-size="10.2" text-anchor="start" textLength="126.8" lengthAdjust="spacingAndGlyphs">Probability of detection =</text>
<text x="917.7" y="540.0999999999999" font-size="10.2" text-anchor="start" textLength="27.8" lengthAdjust="spacingAndGlyphs">0.711</text>
<text x="784.5" y="557.0999999999999" font-size="10.2" text-anchor="start" textLength="94.9" lengthAdjust="spacingAndGlyphs">False alarm ratio =</text>
<text x="886.2" y="557.0999999999999" font-size="10.2" text-anchor="start" textLength="27.8" lengthAdjust="spacingAndGlyphs">0.676</text>
<text x="784.5" y="574.0" font-size="10.2" text-anchor="start" textLength="134.9" lengthAdjust="spacingAndGlyphs">Hanssen &amp; Kuipers score =</text>
<text x="926.6" y="574.0" font-size="10.2" text-anchor="start" textLength="27.8" lengthAdjust="spacingAndGlyphs">0.669</text>
<text x="784.5" y="591.0" font-size="10.2" text-anchor="start" textLength="121.4" lengthAdjust="spacingAndGlyphs">Equitable threat score =</text>
<text x="912.6" y="591.0" font-size="10.2" text-anchor="start" textLength="28.1" lengthAdjust="spacingAndGlyphs">0.269</text>
</svg></body></html>
